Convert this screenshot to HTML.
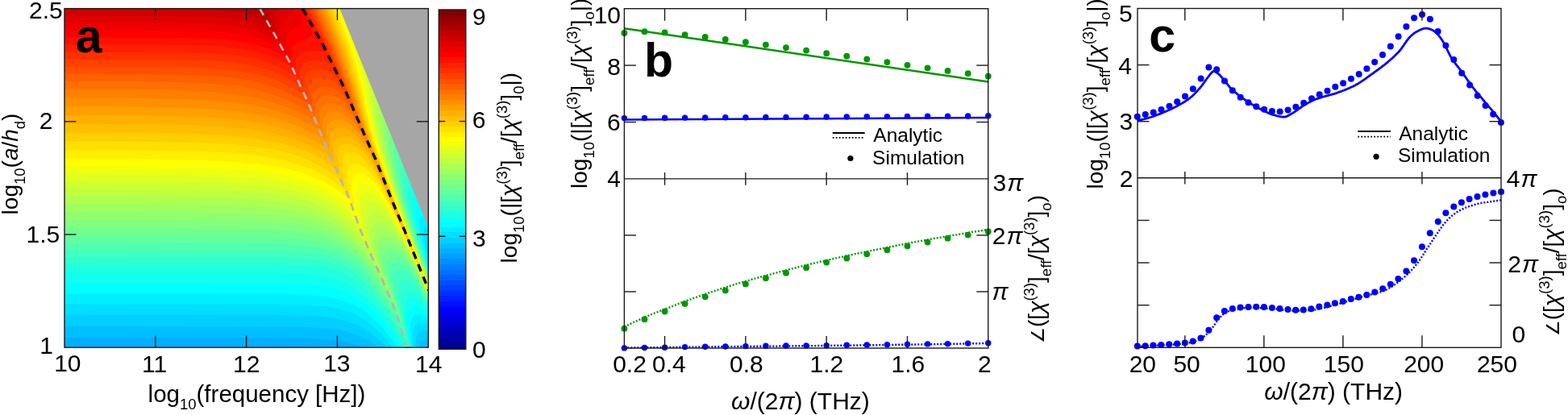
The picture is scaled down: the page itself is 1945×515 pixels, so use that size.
<!DOCTYPE html>
<html><head><meta charset="utf-8"><style>
html,body{margin:0;padding:0;background:#fff;overflow:hidden}
svg{display:block}
text{font-family:"Liberation Sans","DejaVu Sans",sans-serif;fill:#000}
</style></head><body>
<svg width="1945" height="515" viewBox="0 0 1945 515">
<rect width="1945" height="515" fill="#fff"/>
<clipPath id="ca"><rect x="80.0" y="10.6" width="451.3" height="420.6"/></clipPath><g clip-path="url(#ca)"><rect x="80.0" y="10.6" width="451.3" height="420.6" fill="#00afff"/>
<path fill="#00bfff" d="M78.0 8.6 534.0 8.6 534.0 433.6 450.8 433.6 450.3 431.6 447.0 429.9 438.0 426.8 427.0 424.1 407.0 421.3 380.0 419.8 318.0 419.0 78.0 419.0Z"/>
<path fill="#00cfff" d="M78.0 8.6 534.0 8.6 534.0 421.4 528.0 421.1 525.0 422.1 523.0 423.3 520.0 427.7 519.0 430.6 519.5 433.6 470.0 433.6 469.5 431.6 468.7 430.6 461.0 425.1 451.0 419.3 441.0 415.0 431.0 411.8 421.0 409.6 397.0 406.7 372.0 405.5 334.0 405.0 78.0 404.8Z"/>
<path fill="#00dfff" d="M78.0 8.6 534.0 8.6 534.0 294.5 532.0 295.3 531.0 296.6 530.2 301.6 531.0 310.9 534.0 325.7 534.0 412.6 530.0 411.0 526.0 410.6 522.0 411.6 519.0 413.6 517.0 416.6 515.6 421.6 515.2 430.6 515.7 433.6 480.7 433.6 480.2 431.6 478.7 429.6 467.0 418.7 457.0 411.2 446.0 404.8 436.0 400.5 425.0 397.2 413.0 394.7 400.0 393.1 375.0 391.5 337.0 390.9 78.0 390.7Z"/>
<path fill="#00efff" d="M78.0 8.6 534.0 8.6 534.0 281.6 529.0 281.6 527.0 282.6 526.0 284.9 525.7 288.6 526.0 295.6 527.6 305.6 534.0 331.5 534.0 405.1 529.0 401.6 524.0 400.3 519.0 401.1 515.0 404.0 513.0 408.2 512.0 414.6 512.2 423.6 513.4 433.6 488.2 433.6 487.7 431.6 485.7 428.6 472.0 413.4 461.0 403.3 450.0 395.3 440.0 389.8 430.0 385.9 418.0 382.8 405.0 380.6 380.0 378.6 342.0 377.7 78.0 377.5Z"/>
<path fill="#00ffff" d="M78.0 8.6 534.0 8.6 534.0 268.3 523.0 268.6 522.0 269.2 521.0 271.1 520.5 275.6 521.1 282.6 524.1 298.6 528.0 314.7 534.0 335.6 534.0 399.0 528.0 393.0 525.0 391.2 522.0 390.3 519.0 390.0 516.0 390.6 513.0 392.3 511.1 394.6 509.1 400.6 508.7 408.6 509.6 419.6 511.8 433.6 493.9 433.6 493.0 430.6 490.0 426.4 473.0 405.2 460.0 392.1 449.0 383.8 439.0 378.4 429.0 374.2 418.0 370.8 406.0 368.4 381.0 365.8 344.0 364.7 78.0 364.4Z"/>
<path fill="#10ffef" d="M78.0 8.6 534.0 8.6 534.0 255.2 518.0 255.3 517.0 256.0 516.0 257.9 515.5 262.6 517.0 275.6 521.0 293.4 527.0 315.9 534.0 338.5 534.0 394.2 527.0 385.3 521.0 381.2 517.0 380.2 513.0 380.5 510.0 381.9 508.0 384.1 505.8 390.6 505.5 400.6 507.0 414.2 510.5 433.6 498.6 433.6 497.7 430.6 492.0 422.0 474.0 397.7 463.1 385.6 452.0 376.5 441.0 369.2 430.0 363.5 417.0 358.8 405.0 355.8 394.0 354.1 381.0 352.9 344.0 351.6 78.0 351.3Z"/>
<path fill="#20ffdf" d="M78.0 8.6 534.0 8.6 534.0 242.3 513.0 242.5 511.1 244.6 510.6 249.6 512.0 262.6 516.0 280.8 525.0 313.1 534.0 341.1 534.0 390.2 526.0 378.4 522.0 374.2 519.0 372.1 515.0 370.5 510.0 370.3 506.4 371.6 504.0 374.0 502.8 376.6 502.2 380.6 502.5 393.6 505.0 411.4 509.4 433.6 502.5 433.6 501.1 429.6 494.0 418.3 475.0 390.9 467.0 381.6 454.0 369.4 440.0 358.7 430.0 352.4 418.0 347.1 405.0 343.4 393.0 341.3 380.0 340.0 344.0 338.6 78.0 338.2Z"/>
<path fill="#30ffcf" d="M78.0 8.6 534.0 8.6 534.0 230.6 509.0 230.6 508.0 231.0 506.8 232.6 506.0 238.6 506.5 245.6 508.0 254.9 513.0 275.8 524.0 313.3 534.0 343.4 534.0 387.0 524.0 370.7 520.0 366.0 516.0 362.7 512.0 360.8 507.0 360.2 503.0 361.3 500.0 363.8 498.7 366.6 498.1 369.6 498.3 377.6 502.0 402.4 508.5 433.6 505.9 433.6 505.1 430.6 501.0 423.6 480.0 390.5 475.0 383.7 463.0 370.3 447.0 354.4 438.0 346.9 426.0 339.3 418.2 335.6 414.0 334.3 403.0 332.1 390.0 330.5 352.0 328.8 78.0 328.4Z"/>
<path fill="#40ffbf" d="M78.0 8.6 534.0 8.6 534.0 218.9 504.0 219.0 503.0 219.8 502.2 221.6 501.7 226.6 502.1 233.6 503.7 244.6 509.0 266.9 522.0 310.1 534.0 345.5 534.0 384.4 523.0 364.7 518.0 357.8 513.0 352.6 509.0 349.8 504.0 348.1 499.0 348.6 496.1 350.6 494.9 352.6 494.0 356.3 494.1 367.6 500.0 398.6 505.3 422.6 505.0 425.0 481.2 385.6 470.0 371.6 451.0 349.4 442.0 340.5 434.7 334.6 424.1 329.6 413.0 326.4 400.0 323.8 385.0 321.9 346.0 320.1 78.0 319.6ZM505.9 426.6 506.0 426.2Z"/>
<path fill="#50ffaf" d="M78.0 8.6 534.0 8.6 534.0 207.2 500.0 207.2 499.0 207.6 498.0 209.2 497.4 214.6 499.1 231.6 501.6 244.6 505.0 258.0 521.0 309.9 534.0 347.4 534.0 382.1 521.0 357.5 515.0 348.5 510.0 342.5 505.0 338.3 500.0 336.0 495.0 335.7 493.0 336.2 490.7 337.6 489.0 340.2 488.3 343.6 488.9 353.6 492.0 369.6 496.3 385.6 502.1 412.6 502.0 414.7 485.0 385.5 457.0 348.4 445.0 334.7 437.0 329.1 423.0 322.6 409.0 318.2 394.0 315.2 367.0 312.4 328.0 311.1 78.0 310.8Z"/>
<path fill="#60ff9f" d="M78.0 8.6 534.0 8.6 534.0 193.9 495.0 193.9 494.0 194.2 493.4 195.6 493.0 199.6 493.4 209.6 495.0 221.5 498.0 236.5 502.0 252.4 519.0 306.4 534.0 349.2 534.0 380.1 520.0 352.3 514.0 342.3 508.5 334.6 503.0 330.0 498.0 327.8 492.0 327.0 489.0 327.4 486.0 328.5 484.0 330.2 482.7 332.6 482.2 335.6 482.7 339.6 490.0 368.3 495.1 385.6 498.2 399.6 498.0 402.6 487.0 383.6 470.3 360.6 458.0 342.5 452.7 335.6 447.6 330.6 436.0 322.6 422.0 315.6 407.0 310.5 391.0 307.0 378.0 305.2 363.0 303.9 323.0 302.4 78.0 302.0ZM498.6 403.6 499.0 403.0 499.0 404.4Z"/>
<path fill="#70ff8f" d="M78.0 8.6 534.0 8.6 534.0 181.7 490.0 181.7 489.0 182.1 488.3 183.6 487.8 188.6 492.0 217.1 500.0 250.2 519.0 308.8 534.0 350.9 534.0 378.3 523.0 355.2 512.0 335.0 505.0 326.3 498.0 320.9 495.0 319.6 491.0 318.8 487.0 318.9 484.0 319.7 481.0 321.5 479.4 323.6 477.9 329.6 479.0 337.2 494.2 385.6 495.3 390.6 495.0 392.3 491.0 385.1 473.4 359.6 460.0 338.6 457.1 334.6 451.0 328.2 438.0 318.1 423.0 309.5 407.0 303.3 389.0 298.9 375.0 296.8 360.0 295.4 319.0 293.7 78.0 293.2Z"/>
<path fill="#80ff80" d="M78.0 8.6 534.0 8.6 534.0 170.3 485.0 170.3 483.8 172.6 483.4 177.6 485.0 192.5 491.0 221.0 497.1 244.6 503.0 263.8 518.0 308.1 534.0 352.4 534.0 376.8 520.0 346.8 514.0 335.2 510.0 328.8 505.0 321.9 500.0 316.5 495.0 312.9 490.0 311.0 483.0 310.8 478.0 313.0 476.0 315.2 475.0 317.3 474.2 323.6 474.8 329.6 476.0 334.6 491.3 379.6 491.0 381.2 476.6 359.6 462.0 335.4 457.3 329.6 449.0 321.4 436.0 311.0 423.0 303.1 409.0 297.0 393.0 292.2 376.0 288.9 361.0 286.9 342.0 285.4 318.0 284.4 256.0 283.7 78.0 283.6ZM491.9 382.6 492.0 382.2Z"/>
<path fill="#8fff70" d="M78.0 8.6 534.0 8.6 534.0 158.9 481.0 158.9 480.0 159.4 479.6 160.6 479.1 165.6 479.9 176.6 481.9 189.6 489.0 219.4 495.9 244.6 518.0 310.2 534.0 353.9 534.0 375.4 517.0 338.5 508.0 322.5 502.0 314.0 497.0 308.6 492.0 304.8 487.0 302.8 480.0 302.5 475.0 304.5 473.0 306.5 471.8 308.6 470.9 311.6 470.5 315.6 471.1 321.6 473.1 330.6 483.8 359.6 487.1 369.6 487.0 371.3 479.4 359.6 465.0 334.6 455.0 322.5 443.0 310.9 431.0 301.6 418.0 294.1 401.0 286.8 384.0 281.7 370.0 279.1 352.0 276.9 332.0 275.4 307.0 274.5 243.0 273.7 78.0 273.6Z"/>
<path fill="#9fff60" d="M78.0 8.6 534.0 8.6 534.0 147.5 476.0 147.5 475.1 149.6 474.8 153.6 476.0 168.6 479.0 185.8 493.0 238.7 499.0 257.8 516.0 306.4 534.0 355.2 534.0 374.1 516.0 334.3 505.0 314.8 499.0 306.2 494.0 300.6 489.0 296.8 484.0 294.7 478.0 294.1 475.0 294.7 472.0 296.0 470.0 297.7 468.2 300.6 467.0 306.6 467.6 315.6 470.0 325.3 473.0 334.6 482.1 357.6 482.0 359.8 470.0 337.9 464.5 329.6 452.0 314.5 440.0 302.7 427.0 292.8 410.0 282.8 398.0 277.8 382.0 273.2 366.0 270.1 347.0 267.6 326.0 265.9 300.0 264.7 233.0 263.7 78.0 263.5ZM482.5 360.6 483.0 360.0 483.0 361.4Z"/>
<path fill="#afff50" d="M78.0 8.6 534.0 8.6 534.0 136.1 472.0 136.1 471.0 136.8 470.5 141.6 471.0 150.9 472.8 164.6 478.0 189.8 489.0 229.1 497.6 256.6 524.0 330.4 534.0 356.6 534.0 373.0 517.0 334.5 503.0 308.5 497.0 299.6 491.0 292.7 485.0 288.0 480.0 285.8 474.0 285.3 469.0 287.0 467.0 288.7 465.0 291.5 463.5 296.6 463.4 303.6 464.9 312.6 468.0 323.5 472.3 335.6 472.0 336.7 462.0 322.0 449.0 306.1 438.0 295.3 423.0 283.3 414.0 277.5 401.0 271.5 387.0 266.7 372.0 262.9 355.0 259.9 336.0 257.6 314.0 255.9 288.0 254.8 221.0 253.7 78.0 253.5ZM472.5 337.6 473.0 337.2 473.0 338.5Z"/>
<path fill="#bfff40" d="M78.0 8.6 534.0 8.6 534.0 124.7 467.0 124.8 466.2 129.6 467.0 141.6 469.1 156.6 472.0 172.1 476.3 189.6 488.0 229.6 496.7 256.6 525.0 334.6 534.0 357.8 534.0 371.9 517.0 333.0 508.0 314.9 500.0 300.7 494.0 291.7 487.0 283.2 480.0 277.6 475.0 275.3 470.0 274.9 466.0 276.4 462.0 280.8 459.9 285.6 459.5 292.6 460.0 298.6 462.1 308.6 466.1 321.6 466.0 323.5 456.0 309.5 447.0 298.7 430.0 281.8 423.0 276.3 411.0 268.9 397.0 262.4 382.0 257.3 365.0 253.1 348.0 250.2 329.0 247.9 307.0 246.2 281.0 245.0 213.0 243.9 78.0 243.6ZM466.7 324.6 467.0 324.2 467.0 325.0Z"/>
<path fill="#cfff30" d="M78.0 8.6 534.0 8.6 534.0 113.4 463.0 113.4 462.0 114.6 461.9 117.6 463.1 132.6 466.0 152.3 469.5 169.6 474.7 189.6 487.0 229.8 495.9 256.6 524.0 333.3 534.0 359.0 534.0 370.9 516.0 329.4 506.0 308.9 498.0 294.4 491.0 283.3 483.0 273.0 476.0 266.4 470.0 263.4 465.0 263.0 461.0 264.8 458.0 268.4 456.0 274.6 455.3 282.6 455.7 287.6 458.0 299.6 461.1 310.6 461.0 311.8 451.0 298.1 435.8 280.6 428.0 273.3 420.0 267.2 408.0 259.9 395.0 253.8 380.0 248.6 364.5 244.6 346.0 241.5 326.0 239.1 303.0 237.4 276.0 236.1 207.0 234.8 78.0 234.4Z"/>
<path fill="#dfff20" d="M78.0 8.6 534.0 8.6 534.0 94.0 455.0 94.0 454.7 95.6 457.7 109.6 460.0 129.6 463.0 147.9 467.5 168.6 472.0 185.4 486.0 229.8 495.0 256.4 524.0 334.6 534.0 360.2 534.0 370.0 513.0 321.5 503.0 301.0 494.0 284.5 486.0 271.7 478.0 261.1 471.0 254.5 465.0 251.4 461.0 251.0 456.8 252.6 454.0 255.7 451.8 261.6 451.1 267.6 451.3 275.6 452.3 284.6 455.4 296.6 455.0 298.4 441.0 279.8 435.0 273.0 425.0 263.8 415.0 256.5 404.0 250.1 391.9 244.6 376.0 239.6 359.0 235.7 341.0 232.7 320.0 230.3 297.0 228.4 270.0 227.1 202.0 225.7 78.0 225.3ZM455.9 299.6 456.0 299.0Z"/>
<path fill="#efff10" d="M78.0 8.6 534.0 8.6 534.0 72.4 446.0 72.6 449.0 87.4 454.6 109.6 458.0 132.5 462.0 152.6 470.0 183.6 494.0 255.8 534.0 361.4 534.0 369.1 520.0 335.7 511.0 315.7 501.0 295.0 491.0 276.1 482.0 261.2 474.0 250.1 468.0 243.9 461.0 239.7 456.0 238.9 452.0 240.2 449.0 243.6 447.6 247.6 446.6 254.6 446.6 262.6 450.0 286.0 441.0 273.1 432.0 262.8 422.0 253.8 410.3 245.6 398.0 239.6 384.0 234.4 364.0 228.8 349.0 225.5 332.0 222.7 313.0 220.6 265.0 217.8 198.0 216.5 78.0 216.1Z"/>
<path fill="#ffff00" d="M78.0 8.6 419.5 8.6 439.3 60.6 451.9 109.6 456.0 133.4 460.9 155.6 464.4 169.6 470.0 188.0 493.6 256.6 534.0 362.5 534.0 368.3 520.0 334.6 509.0 309.9 496.0 282.8 487.0 265.8 477.0 248.7 471.0 240.3 463.0 232.0 456.0 227.9 451.0 227.0 447.0 228.1 444.0 230.8 442.3 234.6 441.6 239.6 441.8 247.6 442.7 257.6 444.5 268.6 444.0 270.0 435.0 258.4 426.0 249.3 420.0 244.3 408.0 237.0 396.0 231.3 377.0 223.8 361.0 219.2 343.0 215.5 326.0 213.0 307.0 211.0 260.0 208.5 195.0 207.3 78.0 207.0Z"/>
<path fill="#ffef00" d="M78.0 8.6 416.7 8.6 436.3 60.6 449.5 109.6 454.0 133.5 459.0 154.9 468.0 185.8 492.8 256.6 534.0 363.6 534.0 367.5 520.0 333.6 505.0 299.8 493.0 274.5 479.0 247.7 471.0 234.7 464.0 225.7 457.0 219.3 451.0 216.1 446.0 215.1 442.0 216.0 439.0 218.2 436.7 222.6 436.0 226.6 436.0 232.6 439.2 253.6 439.0 255.3 430.8 245.6 423.0 239.2 412.0 231.8 396.0 222.9 383.0 217.2 369.0 212.5 354.0 208.7 338.0 205.6 321.0 203.3 297.0 201.0 252.0 198.6 189.0 197.4 78.0 197.0Z"/>
<path fill="#ffdf00" d="M78.0 8.6 413.9 8.6 433.5 60.6 447.2 109.6 451.9 132.6 457.0 153.6 461.5 169.6 467.0 186.5 492.0 256.2 532.5 361.6 532.0 361.9 531.5 359.6 530.7 358.6 521.3 335.6 498.0 282.9 477.0 240.2 469.0 226.6 461.0 215.6 454.0 208.7 447.0 204.5 442.0 203.3 437.0 203.9 434.0 205.7 431.5 209.6 430.3 214.6 430.3 220.6 431.0 227.6 433.3 238.6 433.0 240.2 424.0 232.4 411.0 222.9 400.0 216.4 388.0 210.5 374.0 205.2 356.0 199.8 342.0 196.4 326.0 193.6 292.0 189.9 246.0 187.6 184.0 186.6 78.0 186.2ZM532.6 362.6 533.0 362.0 533.5 363.6 533.0 364.4ZM533.7 365.6 534.0 364.7 534.0 366.8Z"/>
<path fill="#ffcf00" d="M78.0 8.6 411.1 8.6 430.8 60.6 445.1 109.6 453.0 144.6 463.0 178.3 488.0 247.3 517.5 323.6 517.2 324.6 492.0 268.1 480.0 242.6 470.0 223.5 461.0 209.3 452.0 198.3 446.0 192.8 440.4 189.6 435.0 188.8 430.0 189.6 428.0 190.9 426.0 194.3 425.0 198.6 424.5 207.6 425.1 214.6 427.3 225.6 427.0 226.8 416.0 218.0 405.0 210.6 395.0 205.0 377.0 196.4 367.0 192.5 357.0 189.4 341.0 185.8 324.0 183.0 288.0 179.1 243.0 176.9 181.0 175.8 78.0 175.4ZM517.6 325.6 518.0 324.9 518.4 326.6 518.0 327.0ZM518.9 327.6 519.4 328.6 519.0 329.4ZM519.8 330.6 520.0 330.1 520.0 331.8ZM520.8 333.6 521.0 332.8 521.0 334.1ZM521.9 335.6 522.0 336.4ZM522.8 338.6 523.0 337.9 523.0 339.0ZM523.9 340.6 524.0 341.2ZM524.9 343.6 525.0 342.9 525.0 343.9ZM525.9 345.6 526.0 346.1ZM526.9 348.6 527.0 348.0ZM527.9 350.6 528.0 351.0ZM528.9 353.6 529.0 353.1ZM529.9 355.6 530.0 356.0ZM531.0 358.6 531.0 358.2Z"/>
<path fill="#ffbf00" d="M78.0 8.6 408.3 8.6 428.3 60.6 443.0 109.6 450.9 142.6 460.1 173.6 486.0 243.9 503.7 288.6 509.4 303.6 509.3 304.6 509.0 304.9 508.6 302.6 508.0 302.5 479.0 237.5 465.0 210.2 457.0 197.0 451.7 189.6 444.0 183.2 437.0 179.8 431.0 178.7 426.0 179.4 422.0 181.5 419.0 185.5 417.8 189.6 417.8 191.6 421.3 212.6 421.0 213.4 412.0 206.5 398.0 196.9 389.0 191.5 383.0 188.7 367.0 182.9 352.0 178.6 336.0 175.0 318.0 171.9 283.0 168.3 238.0 166.0 178.0 164.9 78.0 164.5ZM509.7 305.6 510.0 305.2 510.4 306.6 510.0 307.2ZM510.6 308.6 511.0 307.8 511.0 309.5ZM511.9 310.6 512.0 311.9ZM512.8 313.6 513.0 313.0 513.0 314.2ZM514.0 316.6 514.0 316.1ZM514.9 318.6 515.0 318.2 515.0 318.9Z"/>
<path fill="#ffaf00" d="M78.0 8.6 405.5 8.6 425.5 59.6 440.9 109.6 448.2 138.6 458.0 171.0 486.0 245.6 499.4 279.6 499.0 280.3 472.0 219.5 456.9 190.6 451.0 183.0 445.0 177.0 439.0 172.5 433.0 169.8 427.0 168.7 422.0 169.4 418.0 171.4 415.2 174.6 413.5 178.6 412.6 183.6 412.8 189.6 414.4 196.6 414.0 198.7 402.0 189.3 386.0 181.2 370.0 174.7 356.0 170.1 342.0 166.4 327.0 163.3 310.0 160.6 275.0 157.2 231.0 155.1 173.0 154.1 78.0 153.7ZM499.6 280.6 500.0 280.4 500.4 281.6 500.0 282.6ZM500.6 283.6 501.0 283.0 501.0 285.0ZM501.9 285.6 502.3 286.6 502.0 287.3ZM502.7 288.6 503.0 288.1 503.0 289.7ZM503.8 291.6 504.0 290.8 504.0 292.0ZM504.9 293.6 505.0 294.1Z"/>
<path fill="#ff9f00" d="M78.0 8.6 402.8 8.6 423.1 59.6 439.0 109.6 446.0 136.6 455.9 168.6 480.4 233.6 480.0 234.3 460.0 190.9 454.0 181.8 447.0 172.9 440.0 165.9 434.0 161.8 427.0 159.1 422.0 158.6 418.0 159.3 414.0 161.2 411.7 163.6 410.0 166.6 408.8 170.6 408.2 176.6 408.5 183.6 408.0 184.8 396.0 177.7 385.0 172.0 373.0 166.7 360.0 161.9 347.0 158.0 333.0 154.6 303.0 149.5 269.0 146.3 226.0 144.3 169.0 143.3 78.0 142.9ZM480.5 234.6 481.1 234.6 481.0 236.6ZM481.5 237.6 482.0 236.9 482.0 238.9ZM482.9 239.6 483.0 241.3ZM483.7 242.6 484.0 242.2 484.0 243.6ZM484.8 245.6 485.0 245.0 485.0 246.0ZM485.8 247.6 486.0 248.3ZM486.9 250.6 487.0 250.2Z"/>
<path fill="#ff8f00" d="M78.0 8.6 400.0 8.6 420.7 59.6 437.1 109.6 443.0 131.6 450.0 154.5 462.2 188.6 462.0 190.5 451.0 173.1 445.0 165.0 440.0 159.3 436.0 155.6 431.0 152.1 427.0 150.1 422.0 148.8 417.0 148.6 413.0 149.5 410.0 151.1 407.0 154.2 405.4 157.6 404.4 161.6 404.0 174.2 393.0 167.6 381.0 161.4 369.0 156.1 356.0 151.2 343.0 147.3 329.0 143.9 299.0 138.8 265.0 135.5 223.0 133.5 167.0 132.5 78.0 132.1ZM462.6 190.6 463.0 190.6 463.3 191.6 463.0 192.6ZM463.4 193.6 464.0 192.8 464.0 194.8ZM464.4 195.6 465.0 195.0 465.0 196.9ZM465.5 197.6 466.2 197.6 466.0 199.1ZM466.6 200.6 467.0 199.7 467.0 201.5ZM467.6 202.6 468.0 202.2 468.0 203.8ZM468.8 205.6 469.0 205.1 469.0 206.0ZM469.9 207.6 470.0 208.0Z"/>
<path fill="#ff8000" d="M78.0 8.6 397.2 8.6 418.4 59.6 435.2 109.6 443.9 139.6 455.5 174.6 455.0 175.3 444.0 158.3 435.0 147.8 427.0 141.7 423.0 139.9 418.0 138.6 413.0 138.5 409.0 139.3 406.0 140.8 403.1 143.6 401.5 146.6 400.3 150.6 399.8 161.6 399.0 162.9 388.0 156.4 376.0 150.2 364.0 145.0 352.0 140.6 339.0 136.7 325.0 133.2 295.0 128.1 261.0 124.8 219.0 122.7 164.0 121.7 78.0 121.2ZM455.4 175.6 456.0 175.2 456.0 176.9Z"/>
<path fill="#ff7000" d="M78.0 8.6 394.4 8.6 416.1 59.6 433.4 109.6 439.9 131.6 449.3 160.6 449.0 161.4 440.0 147.6 431.0 137.2 423.0 131.4 419.0 129.6 414.0 128.5 409.0 128.3 405.0 129.1 401.9 130.6 399.0 133.2 397.1 136.6 396.0 140.2 395.4 151.6 395.0 152.3 384.0 145.8 372.0 139.7 360.0 134.4 347.0 129.7 334.0 125.7 321.0 122.6 288.0 116.8 256.0 113.6 217.0 111.7 164.0 110.8 78.0 110.4ZM449.7 162.6 450.0 162.1 450.0 163.1Z"/>
<path fill="#ff6000" d="M78.0 8.6 391.6 8.6 413.9 59.6 431.9 110.6 443.0 145.6 443.0 147.2 434.0 134.2 426.0 125.7 418.0 120.5 410.0 118.2 405.0 118.1 401.0 118.8 398.0 120.1 395.0 122.6 393.0 125.8 391.7 129.6 391.0 134.6 391.0 141.8 370.0 130.1 349.0 121.2 334.0 116.0 321.0 112.2 305.3 108.6 293.0 106.6 262.0 103.7 223.0 102.0 169.0 101.2 78.0 100.9Z"/>
<path fill="#ff5000" d="M78.0 8.6 388.8 8.6 411.7 59.6 429.8 109.6 436.4 130.6 436.0 131.5 428.0 120.8 421.0 114.1 412.0 109.1 406.0 107.5 401.0 107.3 397.0 108.0 393.0 110.0 390.0 112.6 388.2 115.6 387.2 118.6 386.6 129.6 386.0 130.6 375.0 124.2 363.0 118.1 339.2 107.6 317.0 101.3 292.0 97.0 262.0 94.3 224.0 92.8 171.0 92.1 78.0 91.8ZM436.7 132.6 437.0 132.0 437.0 133.0Z"/>
<path fill="#ff4000" d="M78.0 8.6 386.0 8.6 409.5 59.6 428.1 109.6 430.3 116.6 430.0 117.3 422.3 107.6 416.0 102.1 409.0 98.3 402.0 96.7 397.0 96.5 392.0 97.4 388.0 99.1 385.1 101.6 383.2 104.6 382.2 107.6 381.7 118.6 381.0 119.6 359.0 107.0 349.0 102.3 338.0 97.9 327.0 94.4 316.0 91.6 291.0 87.4 263.0 85.0 225.0 83.6 78.0 82.7Z"/>
<path fill="#ff3000" d="M78.0 8.6 383.2 8.6 407.3 59.6 422.2 99.6 422.0 100.2 414.0 92.0 407.0 87.9 403.0 86.6 398.0 85.8 389.0 86.3 383.0 88.6 379.0 92.8 377.0 98.3 376.5 107.6 376.0 108.6 356.0 96.7 346.0 92.0 336.0 88.0 315.0 81.9 291.0 77.9 263.0 75.6 227.0 74.4 78.0 73.7Z"/>
<path fill="#ff2000" d="M78.0 8.6 380.4 8.6 402.9 54.6 413.1 81.6 413.0 82.1 406.0 77.3 399.0 75.2 389.0 74.7 381.0 76.4 377.0 78.8 373.4 83.6 372.0 88.3 371.5 96.6 371.0 97.2 352.0 86.0 334.0 78.1 313.0 72.2 289.0 68.4 263.0 66.3 228.0 65.2 78.0 64.6Z"/>
<path fill="#ff1000" d="M78.0 8.6 377.6 8.6 400.7 54.6 403.4 60.6 404.1 63.6 404.0 64.1 396.0 63.2 385.0 63.6 378.0 64.8 373.0 66.8 370.0 69.3 368.0 72.6 367.0 76.6 366.7 84.6 366.0 86.0 356.0 79.7 349.0 76.0 339.0 71.3 329.0 67.5 310.0 62.3 288.0 58.9 263.0 57.0 229.0 56.0 78.0 55.5Z"/>
<path fill="#ff0000" d="M78.0 8.6 374.8 8.6 385.2 30.6 386.9 36.6 387.2 41.6 386.0 44.5 384.0 46.4 370.0 52.3 365.0 56.5 362.2 61.6 361.2 64.6 361.0 75.0 343.0 64.8 326.0 57.7 307.0 52.6 285.0 49.4 261.0 47.8 228.0 46.9 78.0 46.5Z"/>
<path fill="#ef0000" d="M78.0 8.6 370.7 8.6 373.9 17.6 374.7 24.6 374.0 28.1 372.0 31.0 361.0 38.3 357.0 43.4 355.8 46.6 354.8 51.6 355.0 63.8 338.0 54.2 322.0 47.7 304.0 43.0 283.0 40.1 260.0 38.6 228.0 37.8 78.0 37.4Z"/>
<path fill="#df0000" d="M78.0 8.6 362.7 8.6 363.9 10.6 363.0 13.9 361.4 16.6 352.7 24.6 350.4 27.6 349.1 30.6 347.8 37.6 348.7 50.6 348.6 51.6 348.0 52.1 332.0 43.2 317.0 37.4 300.0 33.4 280.0 30.8 258.0 29.5 227.0 28.8 78.0 28.5Z"/>
<path fill="#cf0000" d="M78.0 8.6 343.6 8.6 344.9 10.6 342.0 15.6 340.8 21.6 340.9 29.6 342.4 39.6 342.0 40.9 330.0 34.4 317.0 29.0 303.0 25.2 288.0 22.7 266.0 20.9 236.0 20.0 78.0 19.7Z"/>
<path fill="#bf0000" d="M78.0 8.6 332.7 8.6 333.7 10.6 334.0 17.6 336.3 29.6 336.0 30.1 320.0 22.0 308.0 17.8 294.0 14.7 277.0 12.6 257.0 11.5 229.0 11.0 78.0 10.8Z"/>
<path fill="#af0000" d="M311.4 8.6 327.4 8.6 328.4 10.6 330.0 18.9 312.1 10.6Z"/><polygon points="421.0,9.6 532.3,9.6 532.3,285.0" fill="#a6a6a6"/></g>
<clipPath id="ca2"><rect x="80.0" y="10.6" width="451.3" height="420.6"/></clipPath>
<path clip-path="url(#ca2)" d="M322.5 10.6 L323.4 12.6 L324.5 14.6 L325.7 16.6 L326.8 18.6 L327.9 20.6 L329.1 22.6 L330.2 24.6 L331.4 26.6 L332.5 28.6 L333.6 30.6 L334.8 32.6 L335.9 34.6 L337.1 36.6 L338.2 38.6 L339.4 40.6 L340.5 42.6 L341.6 44.6 L342.7 46.6 L343.8 48.6 L344.9 50.6 L346.0 52.6 L347.1 54.6 L348.1 56.6 L349.2 58.6 L350.3 60.6 L351.4 62.6 L352.5 64.6 L353.6 66.6 L354.7 68.6 L355.8 70.6 L356.9 72.6 L358.0 74.6 L359.1 76.6 L360.2 78.6 L361.1 80.6 L362.0 82.6 L362.9 84.6 L363.8 86.6 L364.7 88.6 L365.5 90.6 L366.4 92.6 L367.3 94.6 L368.2 96.6 L369.1 98.6 L370.0 100.6 L370.8 102.6 L371.7 104.6 L372.6 106.6 L373.5 108.6 L374.4 110.6 L375.3 112.6 L376.3 114.6 L377.2 116.6 L378.2 118.6 L379.1 120.6 L380.0 122.6 L380.9 124.6 L381.8 126.6 L382.6 128.6 L383.4 130.6 L384.3 132.6 L385.1 134.6 L385.9 136.6 L386.8 138.6 L387.6 140.6 L388.4 142.6 L389.3 144.6 L390.1 146.6 L390.9 148.6 L391.7 150.6 L392.5 152.6 L393.3 154.6 L394.1 156.6 L394.9 158.6 L395.7 160.6 L396.5 162.6 L397.3 164.6 L398.1 166.6 L398.9 168.6 L399.7 170.6 L400.5 172.6 L401.4 174.6 L402.2 176.6 L403.0 178.6 L403.8 180.6 L404.6 182.6 L405.4 184.6 L406.3 186.6 L407.2 188.6 L408.1 190.6 L409.0 192.6 L409.9 194.6 L410.8 196.6 L411.7 198.6 L412.6 200.6 L413.5 202.6 L414.4 204.6 L415.3 206.6 L416.2 208.6 L417.1 210.6 L418.0 212.6 L418.9 214.6 L419.8 216.6 L420.7 218.6 L421.6 220.6 L422.5 222.6 L423.4 224.6 L424.3 226.6 L425.2 228.6 L426.2 230.6 L427.1 232.6 L428.0 234.6 L428.9 236.6 L429.8 238.6 L430.7 240.6 L431.6 242.6 L432.5 244.6 L433.3 246.6 L434.0 248.6 L434.7 250.6 L435.4 252.6 L436.1 254.6 L436.8 256.6 L437.5 258.6 L438.2 260.6 L438.9 262.6 L439.6 264.6 L440.4 266.6 L441.1 268.6 L441.8 270.6 L442.5 272.6 L443.2 274.6 L443.9 276.6 L444.6 278.6 L445.3 280.6 L446.0 282.6 L446.7 284.6 L447.6 286.6 L448.5 288.6 L449.3 290.6 L450.2 292.6 L451.0 294.6 L451.9 296.6 L452.7 298.6 L453.6 300.6 L454.4 302.6 L455.3 304.6 L456.1 306.6 L457.0 308.6 L457.9 310.6 L458.7 312.6 L459.6 314.6 L460.4 316.6 L461.3 318.6 L462.2 320.6 L463.2 322.6 L464.1 324.6 L465.0 326.6 L465.9 328.6 L466.8 330.6 L467.7 332.6 L468.6 334.6 L469.5 336.6 L470.4 338.6 L471.3 340.6 L472.3 342.6 L473.2 344.6 L474.1 346.6 L475.0 348.6 L475.8 350.6 L476.7 352.6 L477.5 354.6 L478.4 356.6 L479.2 358.6 L480.0 360.6 L480.9 362.6 L481.7 364.6 L482.5 366.6 L483.4 368.6 L484.2 370.6 L485.0 372.6 L485.9 374.6 L486.7 376.6 L487.6 378.6 L488.4 380.6 L489.2 382.6 L490.1 384.6 L490.8 386.6 L491.4 388.6 L492.0 390.6 L492.6 392.6 L493.2 394.6 L493.9 396.6 L494.5 398.6 L495.1 400.6 L495.7 402.6 L496.3 404.6 L496.9 406.6 L497.6 408.6 L498.2 410.6 L498.8 412.6 L499.4 414.6 L500.0 416.6 L500.7 418.6 L501.3 420.6 L501.9 422.6 L502.5 424.6 L503.1 426.6 L503.7 428.6 L504.3 430.6" fill="none" stroke="#b4b4b4" stroke-width="2.7" stroke-dasharray="9.5 7.2"/>
<path clip-path="url(#ca2)" d="M375.3 10.6 L376.3 12.6 L377.5 14.6 L378.6 16.6 L379.8 18.6 L380.9 20.6 L382.0 22.6 L383.2 24.6 L384.3 26.6 L385.5 28.6 L386.6 30.6 L387.7 32.6 L388.9 34.6 L390.0 36.6 L391.1 38.6 L392.2 40.6 L393.3 42.6 L394.5 44.6 L395.6 46.6 L396.7 48.6 L397.8 50.6 L398.9 52.6 L400.0 54.6 L401.0 56.6 L402.0 58.6 L403.0 60.6 L404.0 62.6 L405.0 64.6 L406.0 66.6 L406.9 68.6 L407.9 70.6 L408.9 72.6 L409.9 74.6 L410.9 76.6 L411.9 78.6 L412.8 80.6 L413.8 82.6 L414.8 84.6 L415.8 86.6 L416.8 88.6 L417.8 90.6 L418.7 92.6 L419.7 94.6 L420.7 96.6 L421.7 98.6 L422.7 100.6 L423.7 102.6 L424.6 104.6 L425.6 106.6 L426.6 108.6 L427.6 110.6 L428.4 112.6 L429.3 114.6 L430.2 116.6 L431.0 118.6 L431.9 120.6 L432.8 122.6 L433.6 124.6 L434.5 126.6 L435.4 128.6 L436.2 130.6 L437.1 132.6 L438.0 134.6 L438.8 136.6 L439.7 138.6 L440.6 140.6 L441.4 142.6 L442.3 144.6 L443.1 146.6 L444.0 148.6 L444.9 150.6 L445.7 152.6 L446.6 154.6 L447.5 156.6 L448.3 158.6 L449.2 160.6 L450.1 162.6 L450.9 164.6 L451.8 166.6 L452.6 168.6 L453.5 170.6 L454.5 172.6 L455.4 174.6 L456.3 176.6 L457.2 178.6 L458.1 180.6 L459.0 182.6 L459.9 184.6 L460.9 186.6 L461.8 188.6 L462.7 190.6 L463.6 192.6 L464.5 194.6 L465.4 196.6 L466.3 198.6 L467.1 200.6 L467.9 202.6 L468.7 204.6 L469.5 206.6 L470.3 208.6 L471.1 210.6 L471.9 212.6 L472.7 214.6 L473.5 216.6 L474.3 218.6 L475.1 220.6 L475.9 222.6 L476.7 224.6 L477.5 226.6 L478.3 228.6 L479.1 230.6 L479.9 232.6 L480.7 234.6 L481.5 236.6 L482.3 238.6 L483.1 240.6 L483.9 242.6 L484.7 244.6 L485.5 246.6 L486.3 248.6 L487.1 250.6 L487.9 252.6 L488.7 254.6 L489.5 256.6 L490.3 258.6 L491.2 260.6 L492.0 262.6 L492.9 264.6 L493.7 266.6 L494.6 268.6 L495.4 270.6 L496.3 272.6 L497.1 274.6 L498.0 276.6 L498.8 278.6 L499.6 280.6 L500.4 282.6 L501.3 284.6 L502.1 286.6 L502.9 288.6 L503.7 290.6 L504.5 292.6 L505.3 294.6 L506.1 296.6 L506.9 298.6 L507.7 300.6 L508.5 302.6 L509.3 304.6 L510.1 306.6 L510.9 308.6 L511.7 310.6 L512.6 312.6 L513.4 314.6 L514.2 316.6 L515.0 318.6 L515.8 320.6 L516.6 322.6 L517.4 324.6 L518.2 326.6 L519.0 328.6 L519.8 330.6 L520.6 332.6 L521.4 334.6 L522.2 336.6 L523.0 338.6 L523.9 340.6 L524.7 342.6 L525.5 344.6 L526.3 346.6 L527.1 348.6 L527.9 350.6 L528.7 352.6 L529.5 354.6 L530.3 356.6 L531.1 358.6 L531.9 360.6" fill="none" stroke="#000" stroke-width="3.4" stroke-dasharray="9.3 7.3"/>
<linearGradient id="cbg" x1="0" y1="1" x2="0" y2="0"><stop offset="0.00000" stop-color="#00008f"/><stop offset="0.01562" stop-color="#00008f"/><stop offset="0.01562" stop-color="#00009f"/><stop offset="0.03125" stop-color="#00009f"/><stop offset="0.03125" stop-color="#0000af"/><stop offset="0.04688" stop-color="#0000af"/><stop offset="0.04688" stop-color="#0000bf"/><stop offset="0.06250" stop-color="#0000bf"/><stop offset="0.06250" stop-color="#0000cf"/><stop offset="0.07812" stop-color="#0000cf"/><stop offset="0.07812" stop-color="#0000df"/><stop offset="0.09375" stop-color="#0000df"/><stop offset="0.09375" stop-color="#0000ef"/><stop offset="0.10938" stop-color="#0000ef"/><stop offset="0.10938" stop-color="#0000ff"/><stop offset="0.12500" stop-color="#0000ff"/><stop offset="0.12500" stop-color="#0010ff"/><stop offset="0.14062" stop-color="#0010ff"/><stop offset="0.14062" stop-color="#0020ff"/><stop offset="0.15625" stop-color="#0020ff"/><stop offset="0.15625" stop-color="#0030ff"/><stop offset="0.17188" stop-color="#0030ff"/><stop offset="0.17188" stop-color="#0040ff"/><stop offset="0.18750" stop-color="#0040ff"/><stop offset="0.18750" stop-color="#0050ff"/><stop offset="0.20312" stop-color="#0050ff"/><stop offset="0.20312" stop-color="#0060ff"/><stop offset="0.21875" stop-color="#0060ff"/><stop offset="0.21875" stop-color="#0070ff"/><stop offset="0.23438" stop-color="#0070ff"/><stop offset="0.23438" stop-color="#0080ff"/><stop offset="0.25000" stop-color="#0080ff"/><stop offset="0.25000" stop-color="#008fff"/><stop offset="0.26562" stop-color="#008fff"/><stop offset="0.26562" stop-color="#009fff"/><stop offset="0.28125" stop-color="#009fff"/><stop offset="0.28125" stop-color="#00afff"/><stop offset="0.29688" stop-color="#00afff"/><stop offset="0.29688" stop-color="#00bfff"/><stop offset="0.31250" stop-color="#00bfff"/><stop offset="0.31250" stop-color="#00cfff"/><stop offset="0.32812" stop-color="#00cfff"/><stop offset="0.32812" stop-color="#00dfff"/><stop offset="0.34375" stop-color="#00dfff"/><stop offset="0.34375" stop-color="#00efff"/><stop offset="0.35938" stop-color="#00efff"/><stop offset="0.35938" stop-color="#00ffff"/><stop offset="0.37500" stop-color="#00ffff"/><stop offset="0.37500" stop-color="#10ffef"/><stop offset="0.39062" stop-color="#10ffef"/><stop offset="0.39062" stop-color="#20ffdf"/><stop offset="0.40625" stop-color="#20ffdf"/><stop offset="0.40625" stop-color="#30ffcf"/><stop offset="0.42188" stop-color="#30ffcf"/><stop offset="0.42188" stop-color="#40ffbf"/><stop offset="0.43750" stop-color="#40ffbf"/><stop offset="0.43750" stop-color="#50ffaf"/><stop offset="0.45312" stop-color="#50ffaf"/><stop offset="0.45312" stop-color="#60ff9f"/><stop offset="0.46875" stop-color="#60ff9f"/><stop offset="0.46875" stop-color="#70ff8f"/><stop offset="0.48438" stop-color="#70ff8f"/><stop offset="0.48438" stop-color="#80ff80"/><stop offset="0.50000" stop-color="#80ff80"/><stop offset="0.50000" stop-color="#8fff70"/><stop offset="0.51562" stop-color="#8fff70"/><stop offset="0.51562" stop-color="#9fff60"/><stop offset="0.53125" stop-color="#9fff60"/><stop offset="0.53125" stop-color="#afff50"/><stop offset="0.54688" stop-color="#afff50"/><stop offset="0.54688" stop-color="#bfff40"/><stop offset="0.56250" stop-color="#bfff40"/><stop offset="0.56250" stop-color="#cfff30"/><stop offset="0.57812" stop-color="#cfff30"/><stop offset="0.57812" stop-color="#dfff20"/><stop offset="0.59375" stop-color="#dfff20"/><stop offset="0.59375" stop-color="#efff10"/><stop offset="0.60938" stop-color="#efff10"/><stop offset="0.60938" stop-color="#ffff00"/><stop offset="0.62500" stop-color="#ffff00"/><stop offset="0.62500" stop-color="#ffef00"/><stop offset="0.64062" stop-color="#ffef00"/><stop offset="0.64062" stop-color="#ffdf00"/><stop offset="0.65625" stop-color="#ffdf00"/><stop offset="0.65625" stop-color="#ffcf00"/><stop offset="0.67188" stop-color="#ffcf00"/><stop offset="0.67188" stop-color="#ffbf00"/><stop offset="0.68750" stop-color="#ffbf00"/><stop offset="0.68750" stop-color="#ffaf00"/><stop offset="0.70312" stop-color="#ffaf00"/><stop offset="0.70312" stop-color="#ff9f00"/><stop offset="0.71875" stop-color="#ff9f00"/><stop offset="0.71875" stop-color="#ff8f00"/><stop offset="0.73438" stop-color="#ff8f00"/><stop offset="0.73438" stop-color="#ff8000"/><stop offset="0.75000" stop-color="#ff8000"/><stop offset="0.75000" stop-color="#ff7000"/><stop offset="0.76562" stop-color="#ff7000"/><stop offset="0.76562" stop-color="#ff6000"/><stop offset="0.78125" stop-color="#ff6000"/><stop offset="0.78125" stop-color="#ff5000"/><stop offset="0.79688" stop-color="#ff5000"/><stop offset="0.79688" stop-color="#ff4000"/><stop offset="0.81250" stop-color="#ff4000"/><stop offset="0.81250" stop-color="#ff3000"/><stop offset="0.82812" stop-color="#ff3000"/><stop offset="0.82812" stop-color="#ff2000"/><stop offset="0.84375" stop-color="#ff2000"/><stop offset="0.84375" stop-color="#ff1000"/><stop offset="0.85938" stop-color="#ff1000"/><stop offset="0.85938" stop-color="#ff0000"/><stop offset="0.87500" stop-color="#ff0000"/><stop offset="0.87500" stop-color="#ef0000"/><stop offset="0.89062" stop-color="#ef0000"/><stop offset="0.89062" stop-color="#df0000"/><stop offset="0.90625" stop-color="#df0000"/><stop offset="0.90625" stop-color="#cf0000"/><stop offset="0.92188" stop-color="#cf0000"/><stop offset="0.92188" stop-color="#bf0000"/><stop offset="0.93750" stop-color="#bf0000"/><stop offset="0.93750" stop-color="#af0000"/><stop offset="0.95312" stop-color="#af0000"/><stop offset="0.95312" stop-color="#9f0000"/><stop offset="0.96875" stop-color="#9f0000"/><stop offset="0.96875" stop-color="#8f0000"/><stop offset="0.98438" stop-color="#8f0000"/><stop offset="0.98438" stop-color="#800000"/><stop offset="1.00000" stop-color="#800000"/></linearGradient>
<rect x="544.3" y="12.0" width="33.5" height="421.3" fill="url(#cbg)"/>
<path d="M774.4 35.2 L1225.8 101.5" fill="none" stroke="#009600" stroke-width="2.4" stroke-linejoin="round"/>
<g fill="#009600"><circle cx="774.4" cy="41.0" r="3.9"/><circle cx="799.5" cy="39.2" r="3.9"/><circle cx="824.6" cy="40.4" r="3.9"/><circle cx="849.6" cy="43.2" r="3.9"/><circle cx="874.7" cy="46.0" r="3.9"/><circle cx="899.8" cy="49.0" r="3.9"/><circle cx="924.9" cy="52.2" r="3.9"/><circle cx="949.9" cy="55.6" r="3.9"/><circle cx="975.0" cy="59.1" r="3.9"/><circle cx="1000.1" cy="62.6" r="3.9"/><circle cx="1025.2" cy="66.2" r="3.9"/><circle cx="1050.3" cy="69.7" r="3.9"/><circle cx="1075.3" cy="73.4" r="3.9"/><circle cx="1100.4" cy="77.1" r="3.9"/><circle cx="1125.5" cy="80.8" r="3.9"/><circle cx="1150.6" cy="84.3" r="3.9"/><circle cx="1175.6" cy="87.9" r="3.9"/><circle cx="1200.7" cy="91.2" r="3.9"/><circle cx="1225.8" cy="94.6" r="3.9"/></g>
<path d="M774.4 148.5 L1000.0 147.3 L1225.8 146.0" fill="none" stroke="#0000ff" stroke-width="2.6" stroke-linejoin="round"/>
<g fill="#0000ff"><circle cx="774.4" cy="146.6" r="3.7"/><circle cx="799.5" cy="146.4" r="3.7"/><circle cx="824.6" cy="146.3" r="3.7"/><circle cx="849.6" cy="146.1" r="3.7"/><circle cx="874.7" cy="146.0" r="3.7"/><circle cx="899.8" cy="145.8" r="3.7"/><circle cx="924.9" cy="145.7" r="3.7"/><circle cx="949.9" cy="145.5" r="3.7"/><circle cx="975.0" cy="145.4" r="3.7"/><circle cx="1000.1" cy="145.2" r="3.7"/><circle cx="1025.2" cy="145.0" r="3.7"/><circle cx="1050.3" cy="144.9" r="3.7"/><circle cx="1075.3" cy="144.7" r="3.7"/><circle cx="1100.4" cy="144.6" r="3.7"/><circle cx="1125.5" cy="144.4" r="3.7"/><circle cx="1150.6" cy="144.3" r="3.7"/><circle cx="1175.6" cy="144.1" r="3.7"/><circle cx="1200.7" cy="144.0" r="3.7"/><circle cx="1225.8" cy="143.8" r="3.7"/></g>
<path d="M774.4 405.5 L775.9 404.8 L777.4 404.0 L778.9 403.3 L780.4 402.6 L781.9 401.9 L783.4 401.1 L784.9 400.4 L786.4 399.7 L787.9 399.0 L789.4 398.4 L790.9 397.7 L792.4 397.0 L793.9 396.3 L795.4 395.6 L796.9 395.0 L798.4 394.3 L799.9 393.7 L801.4 393.0 L802.9 392.4 L804.4 391.8 L805.9 391.2 L807.4 390.5 L808.9 389.9 L810.4 389.3 L811.9 388.7 L813.4 388.1 L814.9 387.5 L816.4 386.9 L817.9 386.3 L819.4 385.7 L820.9 385.2 L822.4 384.6 L823.9 384.0 L825.4 383.4 L826.9 382.8 L828.4 382.2 L829.9 381.6 L831.4 381.0 L832.9 380.4 L834.4 379.8 L835.9 379.2 L837.4 378.6 L838.9 378.1 L840.4 377.5 L841.9 376.9 L843.4 376.3 L844.9 375.7 L846.4 375.2 L847.9 374.6 L849.4 374.1 L850.9 373.5 L852.4 372.9 L853.9 372.4 L855.4 371.8 L856.9 371.3 L858.4 370.7 L859.9 370.2 L861.4 369.6 L862.9 369.1 L864.4 368.6 L865.9 368.0 L867.4 367.5 L868.9 367.0 L870.4 366.4 L871.9 365.9 L873.4 365.4 L874.9 364.9 L876.4 364.3 L877.9 363.8 L879.4 363.3 L880.9 362.8 L882.4 362.3 L883.9 361.8 L885.4 361.3 L886.9 360.8 L888.4 360.3 L889.9 359.8 L891.4 359.3 L892.9 358.8 L894.4 358.3 L895.9 357.8 L897.4 357.3 L898.9 356.9 L900.4 356.4 L901.9 355.9 L903.4 355.4 L904.9 355.0 L906.4 354.5 L907.9 354.0 L909.4 353.6 L910.9 353.1 L912.4 352.7 L913.9 352.2 L915.4 351.8 L916.9 351.3 L918.4 350.9 L919.9 350.4 L921.4 350.0 L922.9 349.5 L924.4 349.1 L925.9 348.6 L927.4 348.2 L928.9 347.8 L930.4 347.4 L931.9 346.9 L933.4 346.5 L934.9 346.1 L936.4 345.7 L937.9 345.2 L939.4 344.8 L940.9 344.4 L942.4 344.0 L943.9 343.6 L945.4 343.2 L946.9 342.8 L948.4 342.4 L949.9 342.0 L951.4 341.6 L952.9 341.1 L954.4 340.7 L955.9 340.4 L957.4 340.0 L958.9 339.6 L960.4 339.2 L961.9 338.8 L963.4 338.4 L964.9 338.0 L966.4 337.6 L967.9 337.2 L969.4 336.8 L970.9 336.4 L972.4 336.0 L973.9 335.7 L975.4 335.3 L976.9 334.9 L978.4 334.5 L979.9 334.1 L981.4 333.7 L982.9 333.3 L984.4 332.9 L985.9 332.5 L987.4 332.2 L988.9 331.8 L990.4 331.4 L991.9 331.0 L993.4 330.6 L994.9 330.3 L996.4 329.9 L997.9 329.5 L999.4 329.2 L1000.9 328.8 L1002.4 328.4 L1003.9 328.1 L1005.4 327.7 L1006.9 327.3 L1008.4 327.0 L1009.9 326.6 L1011.4 326.3 L1012.9 325.9 L1014.4 325.6 L1015.9 325.2 L1017.4 324.8 L1018.9 324.5 L1020.4 324.1 L1021.9 323.8 L1023.4 323.4 L1024.9 323.1 L1026.4 322.8 L1027.9 322.4 L1029.4 322.1 L1030.9 321.7 L1032.4 321.4 L1033.9 321.0 L1035.4 320.7 L1036.9 320.4 L1038.4 320.0 L1039.9 319.7 L1041.4 319.4 L1042.9 319.0 L1044.4 318.7 L1045.9 318.4 L1047.4 318.0 L1048.9 317.7 L1050.4 317.4 L1051.9 317.1 L1053.4 316.7 L1054.9 316.4 L1056.4 316.1 L1057.9 315.8 L1059.4 315.5 L1060.9 315.1 L1062.4 314.8 L1063.9 314.5 L1065.4 314.2 L1066.9 313.9 L1068.4 313.6 L1069.9 313.3 L1071.4 313.0 L1072.9 312.7 L1074.4 312.3 L1075.9 312.0 L1077.4 311.7 L1078.9 311.4 L1080.4 311.1 L1081.9 310.8 L1083.4 310.5 L1084.9 310.2 L1086.4 309.9 L1087.9 309.6 L1089.4 309.3 L1090.9 309.0 L1092.4 308.7 L1093.9 308.4 L1095.4 308.1 L1096.9 307.8 L1098.4 307.5 L1099.9 307.2 L1101.4 306.9 L1102.9 306.6 L1104.4 306.3 L1105.9 306.0 L1107.4 305.7 L1108.9 305.4 L1110.4 305.1 L1111.9 304.8 L1113.4 304.5 L1114.9 304.2 L1116.4 303.9 L1117.9 303.7 L1119.4 303.4 L1120.9 303.1 L1122.4 302.8 L1123.9 302.5 L1125.4 302.2 L1126.9 301.9 L1128.4 301.6 L1129.9 301.3 L1131.4 301.0 L1132.9 300.7 L1134.4 300.4 L1135.9 300.2 L1137.4 299.9 L1138.9 299.6 L1140.4 299.3 L1141.9 299.0 L1143.4 298.8 L1144.9 298.5 L1146.4 298.2 L1147.9 297.9 L1149.4 297.7 L1150.9 297.4 L1152.4 297.1 L1153.9 296.8 L1155.4 296.6 L1156.9 296.3 L1158.4 296.0 L1159.9 295.8 L1161.4 295.5 L1162.9 295.3 L1164.4 295.0 L1165.9 294.7 L1167.4 294.5 L1168.9 294.2 L1170.4 294.0 L1171.9 293.7 L1173.4 293.5 L1174.9 293.2 L1176.4 292.9 L1177.9 292.7 L1179.4 292.4 L1180.9 292.2 L1182.4 291.9 L1183.9 291.7 L1185.4 291.4 L1186.9 291.2 L1188.4 290.9 L1189.9 290.7 L1191.4 290.4 L1192.9 290.2 L1194.4 289.9 L1195.9 289.7 L1197.4 289.4 L1198.9 289.2 L1200.4 288.9 L1201.9 288.7 L1203.4 288.4 L1204.9 288.2 L1206.4 287.9 L1207.9 287.7 L1209.4 287.5 L1210.9 287.2 L1212.4 287.0 L1213.9 286.7 L1215.4 286.5 L1216.9 286.2 L1218.4 286.0 L1219.9 285.7 L1221.4 285.5 L1222.9 285.3 L1224.4 285.0 L1225.8 284.8" fill="none" stroke="#009600" stroke-width="2.4" stroke-linejoin="round" stroke-dasharray="2 2"/>
<g fill="#009600"><circle cx="774.4" cy="407.7" r="3.9"/><circle cx="799.5" cy="396.2" r="3.9"/><circle cx="824.6" cy="386.5" r="3.9"/><circle cx="849.6" cy="376.9" r="3.9"/><circle cx="874.7" cy="368.3" r="3.9"/><circle cx="899.8" cy="360.4" r="3.9"/><circle cx="924.9" cy="352.4" r="3.9"/><circle cx="949.9" cy="345.2" r="3.9"/><circle cx="975.0" cy="338.7" r="3.9"/><circle cx="1000.1" cy="332.2" r="3.9"/><circle cx="1025.2" cy="325.6" r="3.9"/><circle cx="1050.3" cy="320.5" r="3.9"/><circle cx="1075.3" cy="315.3" r="3.9"/><circle cx="1100.4" cy="310.2" r="3.9"/><circle cx="1125.5" cy="305.3" r="3.9"/><circle cx="1150.6" cy="300.6" r="3.9"/><circle cx="1175.6" cy="295.7" r="3.9"/><circle cx="1200.7" cy="291.6" r="3.9"/><circle cx="1225.8" cy="287.5" r="3.9"/></g>
<path d="M774.4 431.6 L775.9 431.6 L777.4 431.6 L778.9 431.5 L780.4 431.5 L781.9 431.5 L783.4 431.5 L784.9 431.5 L786.4 431.5 L787.9 431.4 L789.4 431.4 L790.9 431.4 L792.4 431.4 L793.9 431.4 L795.4 431.4 L796.9 431.3 L798.4 431.3 L799.9 431.3 L801.4 431.3 L802.9 431.3 L804.4 431.3 L805.9 431.2 L807.4 431.2 L808.9 431.2 L810.4 431.2 L811.9 431.2 L813.4 431.1 L814.9 431.1 L816.4 431.1 L817.9 431.1 L819.4 431.1 L820.9 431.1 L822.4 431.0 L823.9 431.0 L825.4 431.0 L826.9 431.0 L828.4 431.0 L829.9 431.0 L831.4 430.9 L832.9 430.9 L834.4 430.9 L835.9 430.9 L837.4 430.9 L838.9 430.9 L840.4 430.8 L841.9 430.8 L843.4 430.8 L844.9 430.8 L846.4 430.8 L847.9 430.8 L849.4 430.7 L850.9 430.7 L852.4 430.7 L853.9 430.7 L855.4 430.7 L856.9 430.7 L858.4 430.6 L859.9 430.6 L861.4 430.6 L862.9 430.6 L864.4 430.6 L865.9 430.6 L867.4 430.5 L868.9 430.5 L870.4 430.5 L871.9 430.5 L873.4 430.5 L874.9 430.5 L876.4 430.5 L877.9 430.4 L879.4 430.4 L880.9 430.4 L882.4 430.4 L883.9 430.4 L885.4 430.4 L886.9 430.3 L888.4 430.3 L889.9 430.3 L891.4 430.3 L892.9 430.3 L894.4 430.3 L895.9 430.2 L897.4 430.2 L898.9 430.2 L900.4 430.2 L901.9 430.2 L903.4 430.2 L904.9 430.1 L906.4 430.1 L907.9 430.1 L909.4 430.1 L910.9 430.1 L912.4 430.1 L913.9 430.1 L915.4 430.0 L916.9 430.0 L918.4 430.0 L919.9 430.0 L921.4 430.0 L922.9 430.0 L924.4 430.0 L925.9 429.9 L927.4 429.9 L928.9 429.9 L930.4 429.9 L931.9 429.9 L933.4 429.9 L934.9 429.9 L936.4 429.8 L937.9 429.8 L939.4 429.8 L940.9 429.8 L942.4 429.8 L943.9 429.8 L945.4 429.7 L946.9 429.7 L948.4 429.7 L949.9 429.7 L951.4 429.7 L952.9 429.7 L954.4 429.7 L955.9 429.6 L957.4 429.6 L958.9 429.6 L960.4 429.6 L961.9 429.6 L963.4 429.6 L964.9 429.6 L966.4 429.5 L967.9 429.5 L969.4 429.5 L970.9 429.5 L972.4 429.5 L973.9 429.5 L975.4 429.5 L976.9 429.4 L978.4 429.4 L979.9 429.4 L981.4 429.4 L982.9 429.4 L984.4 429.4 L985.9 429.3 L987.4 429.3 L988.9 429.3 L990.4 429.3 L991.9 429.3 L993.4 429.3 L994.9 429.3 L996.4 429.2 L997.9 429.2 L999.4 429.2 L1000.9 429.2 L1002.4 429.2 L1003.9 429.2 L1005.4 429.1 L1006.9 429.1 L1008.4 429.1 L1009.9 429.1 L1011.4 429.1 L1012.9 429.1 L1014.4 429.0 L1015.9 429.0 L1017.4 429.0 L1018.9 429.0 L1020.4 429.0 L1021.9 429.0 L1023.4 428.9 L1024.9 428.9 L1026.4 428.9 L1027.9 428.9 L1029.4 428.9 L1030.9 428.9 L1032.4 428.8 L1033.9 428.8 L1035.4 428.8 L1036.9 428.8 L1038.4 428.8 L1039.9 428.8 L1041.4 428.7 L1042.9 428.7 L1044.4 428.7 L1045.9 428.7 L1047.4 428.7 L1048.9 428.6 L1050.4 428.6 L1051.9 428.6 L1053.4 428.6 L1054.9 428.6 L1056.4 428.6 L1057.9 428.5 L1059.4 428.5 L1060.9 428.5 L1062.4 428.5 L1063.9 428.5 L1065.4 428.4 L1066.9 428.4 L1068.4 428.4 L1069.9 428.4 L1071.4 428.4 L1072.9 428.4 L1074.4 428.3 L1075.9 428.3 L1077.4 428.3 L1078.9 428.3 L1080.4 428.3 L1081.9 428.2 L1083.4 428.2 L1084.9 428.2 L1086.4 428.2 L1087.9 428.2 L1089.4 428.1 L1090.9 428.1 L1092.4 428.1 L1093.9 428.1 L1095.4 428.1 L1096.9 428.0 L1098.4 428.0 L1099.9 428.0 L1101.4 428.0 L1102.9 428.0 L1104.4 427.9 L1105.9 427.9 L1107.4 427.9 L1108.9 427.9 L1110.4 427.9 L1111.9 427.8 L1113.4 427.8 L1114.9 427.8 L1116.4 427.8 L1117.9 427.8 L1119.4 427.7 L1120.9 427.7 L1122.4 427.7 L1123.9 427.7 L1125.4 427.6 L1126.9 427.6 L1128.4 427.6 L1129.9 427.6 L1131.4 427.6 L1132.9 427.5 L1134.4 427.5 L1135.9 427.5 L1137.4 427.5 L1138.9 427.4 L1140.4 427.4 L1141.9 427.4 L1143.4 427.4 L1144.9 427.4 L1146.4 427.3 L1147.9 427.3 L1149.4 427.3 L1150.9 427.3 L1152.4 427.2 L1153.9 427.2 L1155.4 427.2 L1156.9 427.2 L1158.4 427.1 L1159.9 427.1 L1161.4 427.1 L1162.9 427.1 L1164.4 427.0 L1165.9 427.0 L1167.4 427.0 L1168.9 427.0 L1170.4 426.9 L1171.9 426.9 L1173.4 426.9 L1174.9 426.9 L1176.4 426.9 L1177.9 426.8 L1179.4 426.8 L1180.9 426.8 L1182.4 426.8 L1183.9 426.7 L1185.4 426.7 L1186.9 426.7 L1188.4 426.7 L1189.9 426.6 L1191.4 426.6 L1192.9 426.6 L1194.4 426.6 L1195.9 426.5 L1197.4 426.5 L1198.9 426.5 L1200.4 426.4 L1201.9 426.4 L1203.4 426.4 L1204.9 426.4 L1206.4 426.3 L1207.9 426.3 L1209.4 426.3 L1210.9 426.3 L1212.4 426.2 L1213.9 426.2 L1215.4 426.2 L1216.9 426.2 L1218.4 426.1 L1219.9 426.1 L1221.4 426.1 L1222.9 426.1 L1224.4 426.0 L1225.8 426.0" fill="none" stroke="#0000ff" stroke-width="2.4" stroke-linejoin="round" stroke-dasharray="2 2"/>
<g fill="#0000ff"><circle cx="774.4" cy="431.9" r="3.7"/><circle cx="799.5" cy="431.5" r="3.7"/><circle cx="824.6" cy="431.3" r="3.7"/><circle cx="849.6" cy="430.6" r="3.7"/><circle cx="874.7" cy="430.3" r="3.7"/><circle cx="899.8" cy="430.0" r="3.7"/><circle cx="924.9" cy="429.6" r="3.7"/><circle cx="949.9" cy="429.3" r="3.7"/><circle cx="975.0" cy="429.0" r="3.7"/><circle cx="1000.1" cy="428.9" r="3.7"/><circle cx="1025.2" cy="428.8" r="3.7"/><circle cx="1050.3" cy="428.3" r="3.7"/><circle cx="1075.3" cy="427.9" r="3.7"/><circle cx="1100.4" cy="427.7" r="3.7"/><circle cx="1125.5" cy="427.3" r="3.7"/><circle cx="1150.6" cy="426.9" r="3.7"/><circle cx="1175.6" cy="426.7" r="3.7"/><circle cx="1200.7" cy="426.1" r="3.7"/><circle cx="1225.8" cy="425.8" r="3.7"/></g>
<path d="M1410.8 149.5 L1412.3 149.2 L1413.8 148.9 L1415.3 148.6 L1416.8 148.3 L1418.3 148.0 L1419.8 147.6 L1421.3 147.2 L1422.8 146.8 L1424.3 146.4 L1425.8 145.9 L1427.3 145.5 L1428.8 145.0 L1430.3 144.5 L1431.8 143.9 L1433.3 143.4 L1434.8 142.8 L1436.3 142.2 L1437.8 141.7 L1439.3 141.1 L1440.8 140.5 L1442.3 139.9 L1443.8 139.3 L1445.3 138.6 L1446.8 138.0 L1448.3 137.3 L1449.8 136.6 L1451.3 135.9 L1452.8 135.2 L1454.3 134.5 L1455.8 133.7 L1457.3 133.0 L1458.8 132.2 L1460.3 131.4 L1461.8 130.6 L1463.3 129.8 L1464.8 129.0 L1466.3 128.1 L1467.8 127.2 L1469.3 126.3 L1470.8 125.3 L1472.3 124.3 L1473.8 123.3 L1475.3 122.2 L1476.8 121.0 L1478.3 119.7 L1479.8 118.3 L1481.3 116.9 L1482.8 115.3 L1484.3 113.7 L1485.8 112.1 L1487.3 110.4 L1488.8 108.7 L1490.3 106.9 L1491.8 104.9 L1493.3 102.8 L1494.8 100.6 L1496.3 98.5 L1497.8 96.5 L1499.3 94.6 L1500.8 92.7 L1502.3 90.8 L1503.8 89.2 L1505.3 88.4 L1506.8 88.6 L1508.3 89.4 L1509.8 90.5 L1511.3 91.7 L1512.8 92.9 L1514.3 94.5 L1515.8 96.3 L1517.3 98.1 L1518.8 99.9 L1520.3 101.7 L1521.8 103.6 L1523.3 105.5 L1524.8 107.4 L1526.3 109.1 L1527.8 110.6 L1529.3 112.0 L1530.8 113.4 L1532.3 114.7 L1533.8 115.9 L1535.3 117.2 L1536.8 118.3 L1538.3 119.5 L1539.8 120.6 L1541.3 121.7 L1542.8 122.7 L1544.3 123.8 L1545.8 124.8 L1547.3 125.8 L1548.8 126.8 L1550.3 127.8 L1551.8 128.7 L1553.3 129.6 L1554.8 130.5 L1556.3 131.4 L1557.8 132.3 L1559.3 133.1 L1560.8 133.9 L1562.3 134.7 L1563.8 135.5 L1565.3 136.3 L1566.8 137.0 L1568.3 137.8 L1569.8 138.6 L1571.3 139.3 L1572.8 140.0 L1574.3 140.7 L1575.8 141.3 L1577.3 141.8 L1578.8 142.3 L1580.3 142.7 L1581.8 143.2 L1583.3 143.6 L1584.8 144.0 L1586.3 144.3 L1587.8 144.7 L1589.3 144.9 L1590.8 145.1 L1592.3 145.2 L1593.8 145.1 L1595.3 144.7 L1596.8 144.1 L1598.3 143.2 L1599.8 142.4 L1601.3 141.6 L1602.8 140.8 L1604.3 139.8 L1605.8 138.8 L1607.3 137.8 L1608.8 136.7 L1610.3 135.6 L1611.8 134.5 L1613.3 133.5 L1614.8 132.4 L1616.3 131.4 L1617.8 130.5 L1619.3 129.6 L1620.8 128.8 L1622.3 127.9 L1623.8 127.0 L1625.3 126.2 L1626.8 125.4 L1628.3 124.7 L1629.8 124.0 L1631.3 123.4 L1632.8 122.8 L1634.3 122.3 L1635.8 121.8 L1637.3 121.3 L1638.8 120.9 L1640.3 120.4 L1641.8 120.0 L1643.3 119.6 L1644.8 119.2 L1646.3 118.8 L1647.8 118.4 L1649.3 118.0 L1650.8 117.6 L1652.3 117.2 L1653.8 116.7 L1655.3 116.3 L1656.8 115.8 L1658.3 115.3 L1659.8 114.7 L1661.3 114.2 L1662.8 113.7 L1664.3 113.1 L1665.8 112.5 L1667.3 112.0 L1668.8 111.4 L1670.3 110.8 L1671.8 110.1 L1673.3 109.5 L1674.8 108.8 L1676.3 108.1 L1677.8 107.4 L1679.3 106.7 L1680.8 105.9 L1682.3 105.1 L1683.8 104.3 L1685.3 103.3 L1686.8 102.4 L1688.3 101.4 L1689.8 100.4 L1691.3 99.4 L1692.8 98.4 L1694.3 97.3 L1695.8 96.2 L1697.3 95.1 L1698.8 94.0 L1700.3 92.9 L1701.8 91.9 L1703.3 90.8 L1704.8 89.7 L1706.3 88.6 L1707.8 87.5 L1709.3 86.5 L1710.8 85.4 L1712.3 84.2 L1713.8 83.1 L1715.3 81.9 L1716.8 80.8 L1718.3 79.6 L1719.8 78.3 L1721.3 77.1 L1722.8 75.8 L1724.3 74.5 L1725.8 73.2 L1727.3 71.9 L1728.8 70.5 L1730.3 69.1 L1731.8 67.6 L1733.3 66.1 L1734.8 64.5 L1736.3 62.8 L1737.8 60.9 L1739.3 58.9 L1740.8 56.7 L1742.3 54.5 L1743.8 52.4 L1745.3 50.2 L1746.8 48.3 L1748.3 46.4 L1749.8 44.9 L1751.3 43.5 L1752.8 42.3 L1754.3 41.1 L1755.8 40.1 L1757.3 39.2 L1758.8 38.4 L1760.3 37.7 L1761.8 37.0 L1763.3 36.4 L1764.8 35.8 L1766.3 35.4 L1767.8 35.2 L1769.3 35.1 L1770.8 35.3 L1772.3 35.6 L1773.8 36.1 L1775.3 36.7 L1776.8 37.3 L1778.3 38.2 L1779.8 39.3 L1781.3 40.6 L1782.8 42.0 L1784.3 43.6 L1785.8 45.5 L1787.3 47.6 L1788.8 49.8 L1790.3 52.2 L1791.8 54.9 L1793.3 57.9 L1794.8 61.0 L1796.3 64.2 L1797.8 67.2 L1799.3 70.0 L1800.8 72.5 L1802.3 74.7 L1803.8 76.8 L1805.3 78.8 L1806.8 80.8 L1808.3 82.7 L1809.8 84.6 L1811.3 86.5 L1812.8 88.6 L1814.3 90.6 L1815.8 92.8 L1817.3 94.9 L1818.8 97.0 L1820.3 99.2 L1821.8 101.3 L1823.3 103.4 L1824.8 105.5 L1826.3 107.5 L1827.8 109.5 L1829.3 111.4 L1830.8 113.3 L1832.3 115.1 L1833.8 116.9 L1835.3 118.7 L1836.8 120.4 L1838.3 122.2 L1839.8 124.0 L1841.3 125.8 L1842.8 127.6 L1844.3 129.3 L1845.8 131.1 L1847.3 132.9 L1848.8 134.6 L1850.3 136.4 L1851.8 138.2 L1853.3 140.0 L1854.8 141.8 L1856.3 143.7 L1857.8 145.7 L1859.3 147.7 L1860.8 149.7 L1862.0 151.4" fill="none" stroke="#0000ff" stroke-width="2.8" stroke-linejoin="round"/>
<g fill="#0000ff"><circle cx="1410.8" cy="144.8" r="4.0"/><circle cx="1420.7" cy="142.0" r="4.0"/><circle cx="1430.7" cy="139.6" r="4.0"/><circle cx="1440.5" cy="136.1" r="4.0"/><circle cx="1450.5" cy="131.7" r="4.0"/><circle cx="1460.2" cy="126.3" r="4.0"/><circle cx="1470.0" cy="119.5" r="4.0"/><circle cx="1479.8" cy="110.2" r="4.0"/><circle cx="1489.6" cy="97.4" r="4.0"/><circle cx="1499.4" cy="83.5" r="4.0"/><circle cx="1509.2" cy="86.3" r="4.0"/><circle cx="1519.0" cy="100.6" r="4.0"/><circle cx="1528.8" cy="112.3" r="4.0"/><circle cx="1538.7" cy="120.7" r="4.0"/><circle cx="1548.5" cy="127.3" r="4.0"/><circle cx="1558.3" cy="132.2" r="4.0"/><circle cx="1568.1" cy="135.7" r="4.0"/><circle cx="1577.9" cy="138.0" r="4.0"/><circle cx="1587.7" cy="138.5" r="4.0"/><circle cx="1597.6" cy="136.6" r="4.0"/><circle cx="1607.4" cy="132.8" r="4.0"/><circle cx="1617.2" cy="127.7" r="4.0"/><circle cx="1627.0" cy="122.2" r="4.0"/><circle cx="1636.7" cy="117.3" r="4.0"/><circle cx="1646.5" cy="112.7" r="4.0"/><circle cx="1656.3" cy="107.8" r="4.0"/><circle cx="1666.1" cy="103.2" r="4.0"/><circle cx="1675.9" cy="97.8" r="4.0"/><circle cx="1685.7" cy="92.1" r="4.0"/><circle cx="1695.4" cy="85.3" r="4.0"/><circle cx="1705.2" cy="77.1" r="4.0"/><circle cx="1715.0" cy="67.9" r="4.0"/><circle cx="1724.8" cy="57.6" r="4.0"/><circle cx="1734.6" cy="45.3" r="4.0"/><circle cx="1744.4" cy="32.9" r="4.0"/><circle cx="1754.1" cy="22.2" r="4.0"/><circle cx="1764.0" cy="18.0" r="4.0"/><circle cx="1773.9" cy="23.8" r="4.0"/><circle cx="1783.6" cy="38.9" r="4.0"/><circle cx="1793.4" cy="56.6" r="4.0"/><circle cx="1803.3" cy="74.1" r="4.0"/><circle cx="1813.2" cy="90.8" r="4.0"/><circle cx="1823.1" cy="105.6" r="4.0"/><circle cx="1832.7" cy="118.7" r="4.0"/><circle cx="1842.6" cy="131.0" r="4.0"/><circle cx="1852.2" cy="141.8" r="4.0"/><circle cx="1861.9" cy="152.0" r="4.0"/></g>
<path d="M1410.8 430.0 L1412.3 429.9 L1413.8 429.9 L1415.3 429.8 L1416.8 429.7 L1418.3 429.6 L1419.8 429.6 L1421.3 429.5 L1422.8 429.4 L1424.3 429.3 L1425.8 429.2 L1427.3 429.1 L1428.8 429.1 L1430.3 429.0 L1431.8 428.9 L1433.3 428.8 L1434.8 428.7 L1436.3 428.6 L1437.8 428.5 L1439.3 428.4 L1440.8 428.4 L1442.3 428.3 L1443.8 428.2 L1445.3 428.1 L1446.8 428.0 L1448.3 427.9 L1449.8 427.8 L1451.3 427.8 L1452.8 427.7 L1454.3 427.6 L1455.8 427.5 L1457.3 427.4 L1458.8 427.3 L1460.3 427.2 L1461.8 427.1 L1463.3 426.9 L1464.8 426.8 L1466.3 426.7 L1467.8 426.5 L1469.3 426.4 L1470.8 426.2 L1472.3 426.0 L1473.8 425.7 L1475.3 425.4 L1476.8 425.1 L1478.3 424.7 L1479.8 424.4 L1481.3 423.9 L1482.8 423.4 L1484.3 422.8 L1485.8 422.1 L1487.3 421.4 L1488.8 420.5 L1490.3 419.6 L1491.8 418.7 L1493.3 417.7 L1494.8 416.5 L1496.3 415.1 L1497.8 413.7 L1499.3 412.1 L1500.8 410.4 L1502.3 408.7 L1503.8 406.8 L1505.3 404.8 L1506.8 402.5 L1508.3 400.1 L1509.8 398.0 L1511.3 396.2 L1512.8 394.4 L1514.3 392.8 L1515.8 391.3 L1517.3 390.0 L1518.8 389.0 L1520.3 388.1 L1521.8 387.3 L1523.3 386.6 L1524.8 386.0 L1526.3 385.5 L1527.8 385.0 L1529.3 384.7 L1530.8 384.4 L1532.3 384.1 L1533.8 383.7 L1535.3 383.5 L1536.8 383.2 L1538.3 382.9 L1539.8 382.7 L1541.3 382.5 L1542.8 382.3 L1544.3 382.1 L1545.8 382.0 L1547.3 381.9 L1548.8 381.8 L1550.3 381.8 L1551.8 381.8 L1553.3 381.8 L1554.8 381.8 L1556.3 381.9 L1557.8 381.9 L1559.3 382.0 L1560.8 382.1 L1562.3 382.1 L1563.8 382.2 L1565.3 382.3 L1566.8 382.4 L1568.3 382.5 L1569.8 382.6 L1571.3 382.7 L1572.8 382.8 L1574.3 382.9 L1575.8 383.0 L1577.3 383.1 L1578.8 383.2 L1580.3 383.3 L1581.8 383.5 L1583.3 383.6 L1584.8 383.7 L1586.3 383.9 L1587.8 384.1 L1589.3 384.3 L1590.8 384.5 L1592.3 384.6 L1593.8 384.8 L1595.3 385.0 L1596.8 385.1 L1598.3 385.3 L1599.8 385.4 L1601.3 385.5 L1602.8 385.6 L1604.3 385.6 L1605.8 385.6 L1607.3 385.6 L1608.8 385.6 L1610.3 385.5 L1611.8 385.5 L1613.3 385.5 L1614.8 385.4 L1616.3 385.4 L1617.8 385.3 L1619.3 385.3 L1620.8 385.2 L1622.3 385.1 L1623.8 385.1 L1625.3 385.0 L1626.8 384.9 L1628.3 384.7 L1629.8 384.6 L1631.3 384.4 L1632.8 384.1 L1634.3 383.8 L1635.8 383.5 L1637.3 383.2 L1638.8 382.9 L1640.3 382.5 L1641.8 382.1 L1643.3 381.8 L1644.8 381.3 L1646.3 380.9 L1647.8 380.5 L1649.3 380.1 L1650.8 379.7 L1652.3 379.2 L1653.8 378.8 L1655.3 378.4 L1656.8 378.0 L1658.3 377.6 L1659.8 377.2 L1661.3 376.8 L1662.8 376.4 L1664.3 376.0 L1665.8 375.6 L1667.3 375.1 L1668.8 374.7 L1670.3 374.2 L1671.8 373.8 L1673.3 373.3 L1674.8 372.8 L1676.3 372.4 L1677.8 371.9 L1679.3 371.4 L1680.8 370.9 L1682.3 370.5 L1683.8 370.0 L1685.3 369.5 L1686.8 369.1 L1688.3 368.6 L1689.8 368.2 L1691.3 367.8 L1692.8 367.4 L1694.3 367.0 L1695.8 366.6 L1697.3 366.2 L1698.8 365.9 L1700.3 365.5 L1701.8 365.2 L1703.3 364.8 L1704.8 364.4 L1706.3 364.1 L1707.8 363.7 L1709.3 363.3 L1710.8 362.8 L1712.3 362.4 L1713.8 361.9 L1715.3 361.4 L1716.8 360.8 L1718.3 360.2 L1719.8 359.5 L1721.3 358.7 L1722.8 357.8 L1724.3 356.9 L1725.8 356.0 L1727.3 355.0 L1728.8 354.0 L1730.3 352.9 L1731.8 351.9 L1733.3 350.8 L1734.8 349.8 L1736.3 348.6 L1737.8 347.4 L1739.3 346.2 L1740.8 344.9 L1742.3 343.6 L1743.8 342.3 L1745.3 340.9 L1746.8 339.4 L1748.3 337.9 L1749.8 336.4 L1751.3 334.8 L1752.8 333.1 L1754.3 331.4 L1755.8 329.6 L1757.3 327.7 L1758.8 325.8 L1760.3 323.8 L1761.8 321.6 L1763.3 319.4 L1764.8 317.1 L1766.3 314.7 L1767.8 312.3 L1769.3 310.0 L1770.8 307.7 L1772.3 305.4 L1773.8 303.1 L1775.3 300.8 L1776.8 298.5 L1778.3 296.2 L1779.8 294.0 L1781.3 291.7 L1782.8 289.6 L1784.3 287.4 L1785.8 285.3 L1787.3 283.1 L1788.8 281.0 L1790.3 279.0 L1791.8 277.1 L1793.3 275.3 L1794.8 273.7 L1796.3 272.2 L1797.8 270.7 L1799.3 269.3 L1800.8 268.0 L1802.3 266.8 L1803.8 265.6 L1805.3 264.5 L1806.8 263.5 L1808.3 262.6 L1809.8 261.7 L1811.3 260.9 L1812.8 260.1 L1814.3 259.4 L1815.8 258.7 L1817.3 258.0 L1818.8 257.4 L1820.3 256.9 L1821.8 256.3 L1823.3 255.8 L1824.8 255.3 L1826.3 254.8 L1827.8 254.3 L1829.3 253.9 L1830.8 253.5 L1832.3 253.1 L1833.8 252.7 L1835.3 252.4 L1836.8 252.1 L1838.3 251.8 L1839.8 251.6 L1841.3 251.4 L1842.8 251.1 L1844.3 250.9 L1845.8 250.7 L1847.3 250.5 L1848.8 250.3 L1850.3 250.1 L1851.8 249.8 L1853.3 249.6 L1854.8 249.4 L1856.3 249.2 L1857.8 248.9 L1859.3 248.7 L1860.8 248.5 L1862.0 248.3" fill="none" stroke="#0000ff" stroke-width="2.4" stroke-linejoin="round" stroke-dasharray="2 2"/>
<g fill="#0000ff"><circle cx="1410.8" cy="429.6" r="4.0"/><circle cx="1420.7" cy="429.2" r="4.0"/><circle cx="1430.5" cy="428.5" r="4.0"/><circle cx="1440.3" cy="428.0" r="4.0"/><circle cx="1450.2" cy="427.3" r="4.0"/><circle cx="1460.1" cy="426.6" r="4.0"/><circle cx="1469.8" cy="425.5" r="4.0"/><circle cx="1479.7" cy="423.4" r="4.0"/><circle cx="1489.5" cy="419.4" r="4.0"/><circle cx="1499.4" cy="409.8" r="4.0"/><circle cx="1509.2" cy="394.2" r="4.0"/><circle cx="1518.9" cy="385.9" r="4.0"/><circle cx="1528.8" cy="383.0" r="4.0"/><circle cx="1538.6" cy="381.6" r="4.0"/><circle cx="1548.5" cy="381.0" r="4.0"/><circle cx="1558.2" cy="380.7" r="4.0"/><circle cx="1567.9" cy="381.1" r="4.0"/><circle cx="1577.9" cy="382.1" r="4.0"/><circle cx="1587.5" cy="383.0" r="4.0"/><circle cx="1597.5" cy="383.9" r="4.0"/><circle cx="1607.2" cy="384.8" r="4.0"/><circle cx="1616.8" cy="384.5" r="4.0"/><circle cx="1626.4" cy="383.2" r="4.0"/><circle cx="1636.3" cy="380.6" r="4.0"/><circle cx="1646.3" cy="378.4" r="4.0"/><circle cx="1655.9" cy="376.2" r="4.0"/><circle cx="1665.8" cy="373.9" r="4.0"/><circle cx="1675.8" cy="371.0" r="4.0"/><circle cx="1685.4" cy="368.8" r="4.0"/><circle cx="1695.3" cy="365.9" r="4.0"/><circle cx="1705.3" cy="362.4" r="4.0"/><circle cx="1715.2" cy="358.2" r="4.0"/><circle cx="1724.8" cy="352.8" r="4.0"/><circle cx="1734.4" cy="346.0" r="4.0"/><circle cx="1744.4" cy="336.4" r="4.0"/><circle cx="1754.0" cy="323.3" r="4.0"/><circle cx="1763.9" cy="306.3" r="4.0"/><circle cx="1773.8" cy="289.3" r="4.0"/><circle cx="1783.8" cy="274.9" r="4.0"/><circle cx="1793.4" cy="264.3" r="4.0"/><circle cx="1803.3" cy="256.6" r="4.0"/><circle cx="1812.9" cy="251.2" r="4.0"/><circle cx="1822.6" cy="247.0" r="4.0"/><circle cx="1832.5" cy="244.1" r="4.0"/><circle cx="1842.4" cy="241.5" r="4.0"/><circle cx="1852.4" cy="239.6" r="4.0"/><circle cx="1862.0" cy="238.0" r="4.0"/></g>
<rect x="80.00" y="10.60" width="451.30" height="420.60" fill="none" stroke="#1a1a1a" stroke-width="1.4"/>
<line x1="192.82" y1="10.60" x2="192.82" y2="25.10" stroke="#1a1a1a" stroke-width="1.4"/>
<line x1="192.82" y1="431.20" x2="192.82" y2="416.70" stroke="#1a1a1a" stroke-width="1.4"/>
<line x1="305.65" y1="10.60" x2="305.65" y2="25.10" stroke="#1a1a1a" stroke-width="1.4"/>
<line x1="305.65" y1="431.20" x2="305.65" y2="416.70" stroke="#1a1a1a" stroke-width="1.4"/>
<line x1="418.47" y1="10.60" x2="418.47" y2="25.10" stroke="#1a1a1a" stroke-width="1.4"/>
<line x1="418.47" y1="431.20" x2="418.47" y2="416.70" stroke="#1a1a1a" stroke-width="1.4"/>
<line x1="80.00" y1="291.00" x2="94.50" y2="291.00" stroke="#1a1a1a" stroke-width="1.4"/>
<line x1="531.30" y1="291.00" x2="516.80" y2="291.00" stroke="#1a1a1a" stroke-width="1.4"/>
<line x1="80.00" y1="150.80" x2="94.50" y2="150.80" stroke="#1a1a1a" stroke-width="1.4"/>
<line x1="531.30" y1="150.80" x2="516.80" y2="150.80" stroke="#1a1a1a" stroke-width="1.4"/>
<rect x="544.30" y="12.00" width="33.50" height="421.30" fill="none" stroke="#1a1a1a" stroke-width="1.4"/>
<line x1="544.30" y1="150.60" x2="552.30" y2="150.60" stroke="#1a1a1a" stroke-width="1.4"/>
<line x1="577.80" y1="150.60" x2="569.80" y2="150.60" stroke="#1a1a1a" stroke-width="1.4"/>
<line x1="544.30" y1="293.30" x2="552.30" y2="293.30" stroke="#1a1a1a" stroke-width="1.4"/>
<line x1="577.80" y1="293.30" x2="569.80" y2="293.30" stroke="#1a1a1a" stroke-width="1.4"/>
<rect x="774.40" y="10.70" width="451.40" height="421.30" fill="none" stroke="#1a1a1a" stroke-width="1.4"/>
<line x1="774.40" y1="221.90" x2="1225.80" y2="221.90" stroke="#1a1a1a" stroke-width="1.4"/>
<line x1="824.56" y1="10.70" x2="824.56" y2="25.70" stroke="#1a1a1a" stroke-width="1.4"/>
<line x1="824.56" y1="214.10" x2="824.56" y2="229.70" stroke="#1a1a1a" stroke-width="1.4"/>
<line x1="824.56" y1="432.00" x2="824.56" y2="417.00" stroke="#1a1a1a" stroke-width="1.4"/>
<line x1="924.87" y1="10.70" x2="924.87" y2="25.70" stroke="#1a1a1a" stroke-width="1.4"/>
<line x1="924.87" y1="214.10" x2="924.87" y2="229.70" stroke="#1a1a1a" stroke-width="1.4"/>
<line x1="924.87" y1="432.00" x2="924.87" y2="417.00" stroke="#1a1a1a" stroke-width="1.4"/>
<line x1="1025.18" y1="10.70" x2="1025.18" y2="25.70" stroke="#1a1a1a" stroke-width="1.4"/>
<line x1="1025.18" y1="214.10" x2="1025.18" y2="229.70" stroke="#1a1a1a" stroke-width="1.4"/>
<line x1="1025.18" y1="432.00" x2="1025.18" y2="417.00" stroke="#1a1a1a" stroke-width="1.4"/>
<line x1="1125.49" y1="10.70" x2="1125.49" y2="25.70" stroke="#1a1a1a" stroke-width="1.4"/>
<line x1="1125.49" y1="214.10" x2="1125.49" y2="229.70" stroke="#1a1a1a" stroke-width="1.4"/>
<line x1="1125.49" y1="432.00" x2="1125.49" y2="417.00" stroke="#1a1a1a" stroke-width="1.4"/>
<line x1="774.40" y1="151.50" x2="788.90" y2="151.50" stroke="#1a1a1a" stroke-width="1.4"/>
<line x1="1225.80" y1="151.50" x2="1211.30" y2="151.50" stroke="#1a1a1a" stroke-width="1.4"/>
<line x1="774.40" y1="81.10" x2="788.90" y2="81.10" stroke="#1a1a1a" stroke-width="1.4"/>
<line x1="1225.80" y1="81.10" x2="1211.30" y2="81.10" stroke="#1a1a1a" stroke-width="1.4"/>
<line x1="774.40" y1="361.97" x2="788.90" y2="361.97" stroke="#1a1a1a" stroke-width="1.4"/>
<line x1="1225.80" y1="361.97" x2="1211.30" y2="361.97" stroke="#1a1a1a" stroke-width="1.4"/>
<line x1="774.40" y1="291.93" x2="788.90" y2="291.93" stroke="#1a1a1a" stroke-width="1.4"/>
<line x1="1225.80" y1="291.93" x2="1211.30" y2="291.93" stroke="#1a1a1a" stroke-width="1.4"/>
<rect x="1411.00" y="10.50" width="451.00" height="420.80" fill="none" stroke="#1a1a1a" stroke-width="1.4"/>
<line x1="1411.00" y1="220.80" x2="1862.00" y2="220.80" stroke="#1a1a1a" stroke-width="1.4"/>
<line x1="1469.83" y1="10.50" x2="1469.83" y2="25.50" stroke="#1a1a1a" stroke-width="1.4"/>
<line x1="1469.83" y1="213.00" x2="1469.83" y2="228.60" stroke="#1a1a1a" stroke-width="1.4"/>
<line x1="1469.83" y1="431.30" x2="1469.83" y2="416.30" stroke="#1a1a1a" stroke-width="1.4"/>
<line x1="1567.87" y1="10.50" x2="1567.87" y2="25.50" stroke="#1a1a1a" stroke-width="1.4"/>
<line x1="1567.87" y1="213.00" x2="1567.87" y2="228.60" stroke="#1a1a1a" stroke-width="1.4"/>
<line x1="1567.87" y1="431.30" x2="1567.87" y2="416.30" stroke="#1a1a1a" stroke-width="1.4"/>
<line x1="1665.91" y1="10.50" x2="1665.91" y2="25.50" stroke="#1a1a1a" stroke-width="1.4"/>
<line x1="1665.91" y1="213.00" x2="1665.91" y2="228.60" stroke="#1a1a1a" stroke-width="1.4"/>
<line x1="1665.91" y1="431.30" x2="1665.91" y2="416.30" stroke="#1a1a1a" stroke-width="1.4"/>
<line x1="1763.96" y1="10.50" x2="1763.96" y2="25.50" stroke="#1a1a1a" stroke-width="1.4"/>
<line x1="1763.96" y1="213.00" x2="1763.96" y2="228.60" stroke="#1a1a1a" stroke-width="1.4"/>
<line x1="1763.96" y1="431.30" x2="1763.96" y2="416.30" stroke="#1a1a1a" stroke-width="1.4"/>
<line x1="1411.00" y1="150.70" x2="1425.50" y2="150.70" stroke="#1a1a1a" stroke-width="1.4"/>
<line x1="1862.00" y1="150.70" x2="1847.50" y2="150.70" stroke="#1a1a1a" stroke-width="1.4"/>
<line x1="1411.00" y1="80.60" x2="1425.50" y2="80.60" stroke="#1a1a1a" stroke-width="1.4"/>
<line x1="1862.00" y1="80.60" x2="1847.50" y2="80.60" stroke="#1a1a1a" stroke-width="1.4"/>
<line x1="1411.00" y1="378.68" x2="1425.50" y2="378.68" stroke="#1a1a1a" stroke-width="1.4"/>
<line x1="1862.00" y1="378.68" x2="1847.50" y2="378.68" stroke="#1a1a1a" stroke-width="1.4"/>
<line x1="1411.00" y1="326.05" x2="1425.50" y2="326.05" stroke="#1a1a1a" stroke-width="1.4"/>
<line x1="1862.00" y1="326.05" x2="1847.50" y2="326.05" stroke="#1a1a1a" stroke-width="1.4"/>
<line x1="1411.00" y1="273.43" x2="1425.50" y2="273.43" stroke="#1a1a1a" stroke-width="1.4"/>
<line x1="1862.00" y1="273.43" x2="1847.50" y2="273.43" stroke="#1a1a1a" stroke-width="1.4"/>
<text x="36.0" y="22.6" font-size="30">2.5</text>
<text x="48.8" y="159.5" font-size="30">2</text>
<text x="32.5" y="301.2" font-size="30">1.5</text>
<text x="49.2" y="438.5" font-size="30">1</text>
<text x="67.2" y="461.3" font-size="30">10</text>
<text x="176.1" y="461.6" font-size="30">11</text>
<text x="289.1" y="461.6" font-size="30">12</text>
<text x="401.2" y="461.3" font-size="30">13</text>
<text x="515.0" y="461.6" font-size="30">14</text>
<text x="585.9" y="31.1" font-size="30">9</text>
<text x="585.7" y="159.2" font-size="30">6</text>
<text x="586.0" y="306.2" font-size="30">3</text>
<text x="586.0" y="443.9" font-size="30">0</text>
<text x="736.7" y="29.4" font-size="30">10</text>
<text x="753.2" y="92.8" font-size="30">8</text>
<text x="753.1" y="162.2" font-size="30">6</text>
<text x="753.2" y="232.0" font-size="30">4</text>
<text x="760.2" y="461.7" font-size="30">0.2</text>
<text x="809.1" y="461.7" font-size="30">0.4</text>
<text x="905.0" y="461.7" font-size="30">0.8</text>
<text x="1004.5" y="462.0" font-size="30">1.2</text>
<text x="1105.5" y="461.7" font-size="30">1.6</text>
<text x="1213.1" y="462.0" font-size="30">2</text>
<text x="1388.1" y="27.1" font-size="30">5</text>
<text x="1387.2" y="91.5" font-size="30">4</text>
<text x="1388.4" y="161.3" font-size="30">3</text>
<text x="1388.7" y="231.8" font-size="30">2</text>
<text x="1400.7" y="461.5" font-size="30">20</text>
<text x="1455.4" y="461.5" font-size="30">50</text>
<text x="1544.8" y="461.5" font-size="30">100</text>
<text x="1641.8" y="461.5" font-size="30">150</text>
<text x="1741.2" y="461.5" font-size="30">200</text>
<text x="1831.9" y="461.5" font-size="30">250</text>
<text x="1231.5" y="237.4" font-size="30">3<tspan font-style="italic" dx="1">π</tspan></text>
<text x="1230.7" y="302.6" font-size="30">2<tspan font-style="italic" dx="1">π</tspan></text>
<text x="1230.4" y="372.1" font-size="30" font-style="italic">π</text>
<text x="1868.7" y="231.5" font-size="30">4<tspan font-style="italic" dx="1">π</tspan></text>
<text x="1870.3" y="338.0" font-size="30">2<tspan font-style="italic" dx="1">π</tspan></text>
<text x="1875.5" y="425.1" font-size="30">0</text>
<text x="93.7" y="64.8" font-size="59" font-weight="bold">a</text>
<text x="799.1" y="94.5" font-size="59" font-weight="bold">b</text>
<text x="1425.2" y="64.3" font-size="59" font-weight="bold">c</text>
<text x="183.6" y="498.5" font-size="29.5">log<tspan font-size="18.5" dy="9">10</tspan><tspan dy="-9">(frequency [Hz])</tspan></text>
<text x="907" y="508.1" font-size="30"><tspan font-style="italic">ω</tspan>/(2<tspan font-style="italic">π</tspan>) (THz)</text>
<text x="1568.3" y="495.6" font-size="30"><tspan font-style="italic">ω</tspan>/(2<tspan font-style="italic">π</tspan>) (THz)</text>
<text transform="translate(21.7,266.4) rotate(-90)" font-size="28" text-anchor="start">log<tspan font-size="18.5" dy="9">10</tspan><tspan dy="-9">(</tspan><tspan font-style="italic">a</tspan>/<tspan font-style="italic">h</tspan><tspan font-size="18.5" dy="9">d</tspan><tspan dy="-9">)</tspan></text>
<text transform="translate(641.0,326.4) rotate(-90)" font-size="28" text-anchor="start">log<tspan font-size="18.5" dy="9">10</tspan><tspan dy="-9">(|</tspan>[<tspan font-style="italic">χ</tspan><tspan font-size="18.5" dy="-12">(3)</tspan><tspan dy="12">]</tspan><tspan font-size="18.5" dy="9">eff</tspan><tspan dy="-9">/</tspan>[<tspan font-style="italic">χ</tspan><tspan font-size="18.5" dy="-12">(3)</tspan><tspan dy="12">]</tspan><tspan font-size="18.5" dy="9">0</tspan><tspan dy="-9">|)</tspan></text>
<text transform="translate(727.6,234.0) rotate(-90)" font-size="28" text-anchor="start">log<tspan font-size="18.5" dy="9">10</tspan><tspan dy="-9">(|</tspan>[<tspan font-style="italic">χ</tspan><tspan font-size="18.5" dy="-12">(3)</tspan><tspan dy="12">]</tspan><tspan font-size="18.5" dy="9">eff</tspan><tspan dy="-9">/</tspan>[<tspan font-style="italic">χ</tspan><tspan font-size="18.5" dy="-12">(3)</tspan><tspan dy="12">]</tspan><tspan font-size="18.5" dy="9">o</tspan><tspan dy="-9">|)</tspan></text>
<text transform="translate(1368.0,234.5) rotate(-90)" font-size="28" text-anchor="start">log<tspan font-size="18.5" dy="9">10</tspan><tspan dy="-9">(|</tspan>[<tspan font-style="italic">χ</tspan><tspan font-size="18.5" dy="-12">(3)</tspan><tspan dy="12">]</tspan><tspan font-size="18.5" dy="9">eff</tspan><tspan dy="-9">/</tspan>[<tspan font-style="italic">χ</tspan><tspan font-size="18.5" dy="-12">(3)</tspan><tspan dy="12">]</tspan><tspan font-size="18.5" dy="9">o</tspan><tspan dy="-9">|)</tspan></text>
<text transform="translate(1295.0,425.7) rotate(-90)" font-size="28" text-anchor="start"><tspan font-size="22" font-family="DejaVu Sans, sans-serif">∠</tspan>([<tspan font-style="italic">χ</tspan><tspan font-size="18.5" dy="-12">(3)</tspan><tspan dy="12">]</tspan><tspan font-size="18.5" dy="9">eff</tspan><tspan dy="-9">/</tspan>[<tspan font-style="italic">χ</tspan><tspan font-size="18.5" dy="-12">(3)</tspan><tspan dy="12">]</tspan><tspan font-size="18.5" dy="9">o</tspan><tspan dy="-9">)</tspan></text>
<text transform="translate(1934.0,417.1) rotate(-90)" font-size="28" text-anchor="start"><tspan font-size="22" font-family="DejaVu Sans, sans-serif">∠</tspan>([<tspan font-style="italic">χ</tspan><tspan font-size="18.5" dy="-12">(3)</tspan><tspan dy="12">]</tspan><tspan font-size="18.5" dy="9">eff</tspan><tspan dy="-9">/</tspan>[<tspan font-style="italic">χ</tspan><tspan font-size="18.5" dy="-12">(3)</tspan><tspan dy="12">]</tspan><tspan font-size="18.5" dy="9">o</tspan><tspan dy="-9">)</tspan></text>
<line x1="1032.80" y1="165.00" x2="1072.70" y2="165.00" stroke="#000" stroke-width="1.8"/>
<line x1="1032.80" y1="170.90" x2="1072.70" y2="170.90" stroke="#000" stroke-width="1.8" stroke-dasharray="1.8 2.2"/>
<text x="1083.3" y="175.7" font-size="24.5">Analytic</text>
<text x="1082.1" y="204.1" font-size="24.5">Simulation</text>
<circle cx="1054.9" cy="196.5" r="3.6" fill="#000"/>
<line x1="1684.30" y1="163.00" x2="1725.00" y2="163.00" stroke="#000" stroke-width="1.8"/>
<line x1="1684.30" y1="169.60" x2="1725.00" y2="169.60" stroke="#000" stroke-width="1.8" stroke-dasharray="1.8 2.2"/>
<text x="1735.2" y="173.8" font-size="24.5">Analytic</text>
<text x="1734.0" y="201.2" font-size="24.5">Simulation</text>
<circle cx="1707.1" cy="194.3" r="3.6" fill="#000"/>
</svg></body></html>
